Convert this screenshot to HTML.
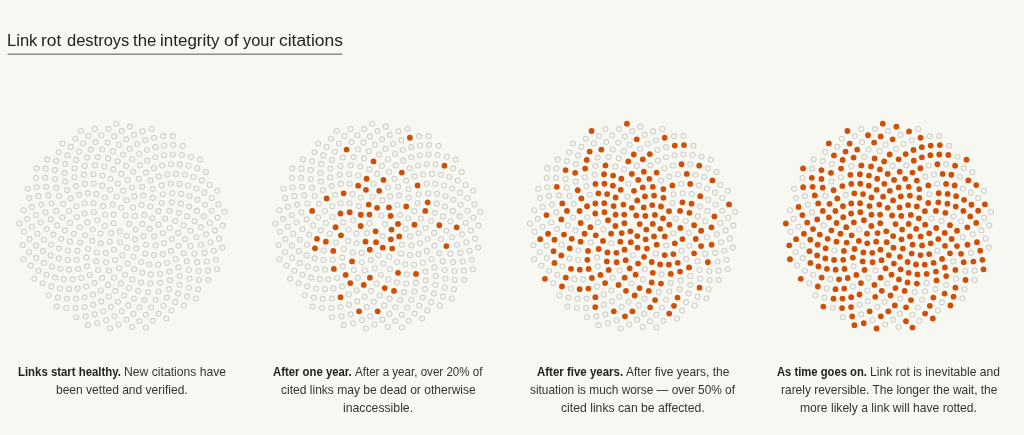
<!DOCTYPE html>
<html lang="en">
<head>
<meta charset="utf-8">
<title>Link rot destroys the integrity of your citations</title>
<style>
html,body{margin:0;padding:0;}
body{width:1024px;height:435px;overflow:hidden;background:#f8f8f3;position:relative;font-family:"Liberation Sans",sans-serif;}
section,figure,figcaption,h2{margin:0;padding:0;font-weight:400;}
section{position:absolute;left:0;top:0;width:1024px;height:435px;}
h2{position:absolute;left:0;top:0;width:350px;height:56px;}
h2 svg{position:absolute;left:0;top:50px;}
figure{position:absolute;left:0;top:0;width:1024px;height:435px;}
figure svg{position:absolute;}
.s{position:absolute;display:block;white-space:nowrap;transform-origin:0 0;line-height:18px;height:18px;}
.t{color:#222;}
.b{color:#222;font-weight:700;}
.r{color:#333;font-weight:400;}
.e{fill:none;stroke:#d0d1cd;stroke-width:1.12;}
.f{fill:#cf4f08;stroke:none;}
</style>
</head>
<body>
<section>
<h2><span class="s t" style="left:7.26px;top:32.01px;font-size:16px;transform:scaleX(1.0339)">Link</span> <span class="s t" style="left:41.46px;top:32.01px;font-size:16px;transform:scaleX(1.0834)">rot</span> <span class="s t" style="left:66.63px;top:32.01px;font-size:16px;transform:scaleX(1.0312)">destroys</span> <span class="s t" style="left:133.18px;top:32.01px;font-size:16px;transform:scaleX(1.0475)">the</span> <span class="s t" style="left:160.14px;top:32.01px;font-size:16px;transform:scaleX(1.0613)">integrity</span> <span class="s t" style="left:224.37px;top:32.01px;font-size:16px;transform:scaleX(1.104)">of</span> <span class="s t" style="left:243.10px;top:32.01px;font-size:16px;transform:scaleX(1.0226)">your</span> <span class="s t" style="left:278.63px;top:32.01px;font-size:16px;transform:scaleX(1.0878)">citations</span>
<svg width="350" height="6" viewBox="0 50 350 6" aria-hidden="true"><rect x="7.6" y="53.65" width="334.6" height="1" fill="#555"/></svg></h2>
<figure>
<svg width="220" height="220" viewBox="0 0 220 220" style="left:12px;top:116px" aria-hidden="true">
<circle class="e" cx="107.76" cy="115.29" r="2.5"/>
<circle class="e" cx="117.08" cy="108.10" r="2.5"/>
<circle class="e" cx="101.78" cy="107.22" r="2.5"/>
<circle class="e" cx="114.61" cy="120.10" r="2.5"/>
<circle class="e" cx="113.61" cy="99.50" r="2.5"/>
<circle class="e" cx="99.10" cy="117.10" r="2.5"/>
<circle class="e" cx="123.65" cy="113.57" r="2.5"/>
<circle class="e" cx="101.62" cy="98.59" r="2.5"/>
<circle class="e" cx="108.18" cy="126.19" r="2.5"/>
<circle class="e" cx="122.74" cy="99.97" r="2.5"/>
<circle class="e" cx="92.84" cy="109.99" r="2.5"/>
<circle class="e" cx="123.01" cy="123.37" r="2.5"/>
<circle class="e" cx="109.22" cy="91.85" r="2.5"/>
<circle class="e" cx="97.68" cy="125.69" r="2.5"/>
<circle class="e" cx="130.18" cy="107.89" r="2.5"/>
<circle class="e" cx="92.97" cy="98.77" r="2.5"/>
<circle class="e" cx="114.94" cy="131.64" r="2.5"/>
<circle class="e" cx="121.11" cy="91.39" r="2.5"/>
<circle class="e" cx="88.49" cy="117.63" r="2.5"/>
<circle class="e" cx="131.38" cy="120.38" r="2.5"/>
<circle class="e" cx="100.84" cy="88.60" r="2.5"/>
<circle class="e" cx="101.93" cy="133.72" r="2.5"/>
<circle class="e" cx="132.28" cy="98.93" r="2.5"/>
<circle class="e" cx="85.39" cy="104.21" r="2.5"/>
<circle class="e" cx="124.34" cy="132.57" r="2.5"/>
<circle class="e" cx="114.58" cy="84.40" r="2.5"/>
<circle class="e" cx="88.75" cy="127.33" r="2.5"/>
<circle class="e" cx="137.69" cy="112.85" r="2.5"/>
<circle class="e" cx="90.99" cy="90.07" r="2.5"/>
<circle class="e" cx="110.38" cy="139.25" r="2.5"/>
<circle class="e" cx="129.62" cy="89.06" r="2.5"/>
<circle class="e" cx="80.75" cy="113.47" r="2.5"/>
<circle class="e" cx="134.10" cy="128.71" r="2.5"/>
<circle class="e" cx="104.61" cy="80.71" r="2.5"/>
<circle class="e" cx="93.78" cy="136.85" r="2.5"/>
<circle class="e" cx="140.34" cy="102.28" r="2.5"/>
<circle class="e" cx="81.85" cy="96.24" r="2.5"/>
<circle class="e" cx="121.43" cy="140.80" r="2.5"/>
<circle class="e" cx="122.35" cy="80.41" r="2.5"/>
<circle class="e" cx="80.35" cy="124.88" r="2.5"/>
<circle class="e" cx="142.13" cy="120.40" r="2.5"/>
<circle class="e" cx="92.95" cy="81.51" r="2.5"/>
<circle class="e" cx="103.06" cy="144.15" r="2.5"/>
<circle class="e" cx="138.33" cy="90.50" r="2.5"/>
<circle class="e" cx="75.38" cy="106.42" r="2.5"/>
<circle class="e" cx="133.19" cy="137.55" r="2.5"/>
<circle class="e" cx="111.34" cy="74.87" r="2.5"/>
<circle class="e" cx="84.84" cy="136.50" r="2.5"/>
<circle class="e" cx="146.65" cy="108.67" r="2.5"/>
<circle class="e" cx="81.61" cy="87.22" r="2.5"/>
<circle class="e" cx="115.42" cy="147.57" r="2.5"/>
<circle class="e" cx="131.41" cy="79.57" r="2.5"/>
<circle class="e" cx="73.13" cy="119.29" r="2.5"/>
<circle class="e" cx="143.59" cy="129.46" r="2.5"/>
<circle class="e" cx="98.09" cy="73.85" r="2.5"/>
<circle class="e" cx="94.04" cy="146.25" r="2.5"/>
<circle class="e" cx="146.39" cy="95.14" r="2.5"/>
<circle class="e" cx="72.62" cy="97.49" r="2.5"/>
<circle class="e" cx="129.09" cy="146.00" r="2.5"/>
<circle class="e" cx="120.15" cy="71.46" r="2.5"/>
<circle class="e" cx="76.02" cy="132.98" r="2.5"/>
<circle class="e" cx="150.73" cy="117.29" r="2.5"/>
<circle class="e" cx="84.51" cy="78.08" r="2.5"/>
<circle class="e" cx="107.03" cy="152.31" r="2.5"/>
<circle class="e" cx="140.82" cy="81.82" r="2.5"/>
<circle class="e" cx="67.73" cy="111.19" r="2.5"/>
<circle class="e" cx="142.03" cy="139.11" r="2.5"/>
<circle class="e" cx="105.84" cy="67.81" r="2.5"/>
<circle class="e" cx="84.20" cy="145.41" r="2.5"/>
<circle class="e" cx="153.07" cy="102.49" r="2.5"/>
<circle class="e" cx="72.73" cy="87.51" r="2.5"/>
<circle class="e" cx="122.20" cy="153.29" r="2.5"/>
<circle class="e" cx="130.20" cy="70.80" r="2.5"/>
<circle class="e" cx="68.16" cy="126.60" r="2.5"/>
<circle class="e" cx="152.17" cy="127.37" r="2.5"/>
<circle class="e" cx="90.33" cy="69.67" r="2.5"/>
<circle class="e" cx="97.00" cy="154.54" r="2.5"/>
<circle class="e" cx="149.75" cy="87.02" r="2.5"/>
<circle class="e" cx="64.70" cy="101.27" r="2.5"/>
<circle class="e" cx="137.50" cy="148.51" r="2.5"/>
<circle class="e" cx="115.59" cy="63.97" r="2.5"/>
<circle class="e" cx="74.39" cy="141.58" r="2.5"/>
<circle class="e" cx="157.70" cy="112.01" r="2.5"/>
<circle class="e" cx="75.80" cy="77.33" r="2.5"/>
<circle class="e" cx="112.99" cy="158.71" r="2.5"/>
<circle class="e" cx="140.70" cy="73.08" r="2.5"/>
<circle class="e" cx="61.97" cy="117.76" r="2.5"/>
<circle class="e" cx="150.71" cy="138.11" r="2.5"/>
<circle class="e" cx="98.72" cy="62.73" r="2.5"/>
<circle class="e" cx="86.07" cy="153.94" r="2.5"/>
<circle class="e" cx="157.41" cy="94.90" r="2.5"/>
<circle class="e" cx="64.42" cy="90.23" r="2.5"/>
<circle class="e" cx="130.19" cy="156.85" r="2.5"/>
<circle class="e" cx="126.67" cy="62.80" r="2.5"/>
<circle class="e" cx="65.41" cy="134.90" r="2.5"/>
<circle class="e" cx="159.79" cy="123.05" r="2.5"/>
<circle class="e" cx="81.78" cy="67.75" r="2.5"/>
<circle class="e" cx="102.05" cy="161.70" r="2.5"/>
<circle class="e" cx="150.82" cy="78.31" r="2.5"/>
<circle class="e" cx="58.06" cy="107.01" r="2.5"/>
<circle class="e" cx="146.28" cy="148.71" r="2.5"/>
<circle class="e" cx="109.22" cy="57.92" r="2.5"/>
<circle class="e" cx="75.05" cy="150.35" r="2.5"/>
<circle class="e" cx="163.11" cy="105.06" r="2.5"/>
<circle class="e" cx="67.12" cy="78.85" r="2.5"/>
<circle class="e" cx="120.45" cy="163.41" r="2.5"/>
<circle class="e" cx="138.33" cy="64.57" r="2.5"/>
<circle class="e" cx="58.00" cy="125.66" r="2.5"/>
<circle class="e" cx="158.97" cy="134.92" r="2.5"/>
<circle class="e" cx="90.46" cy="59.55" r="2.5"/>
<circle class="e" cx="90.06" cy="161.87" r="2.5"/>
<circle class="e" cx="159.78" cy="86.34" r="2.5"/>
<circle class="e" cx="56.90" cy="94.98" r="2.5"/>
<circle class="e" cx="138.95" cy="158.39" r="2.5"/>
<circle class="e" cx="121.20" cy="55.76" r="2.5"/>
<circle class="e" cx="64.72" cy="143.80" r="2.5"/>
<circle class="e" cx="166.28" cy="116.92" r="2.5"/>
<circle class="e" cx="72.83" cy="67.93" r="2.5"/>
<circle class="e" cx="108.80" cy="167.60" r="2.5"/>
<circle class="e" cx="149.77" cy="69.40" r="2.5"/>
<circle class="e" cx="52.83" cy="114.32" r="2.5"/>
<circle class="e" cx="155.08" cy="146.81" r="2.5"/>
<circle class="e" cx="101.41" cy="53.40" r="2.5"/>
<circle class="e" cx="77.79" cy="158.96" r="2.5"/>
<circle class="e" cx="166.87" cy="96.83" r="2.5"/>
<circle class="e" cx="58.79" cy="82.41" r="2.5"/>
<circle class="e" cx="129.03" cy="166.39" r="2.5"/>
<circle class="e" cx="133.97" cy="56.59" r="2.5"/>
<circle class="e" cx="55.85" cy="134.51" r="2.5"/>
<circle class="e" cx="166.52" cy="129.80" r="2.5"/>
<circle class="e" cx="81.41" cy="58.25" r="2.5"/>
<circle class="e" cx="95.89" cy="168.92" r="2.5"/>
<circle class="e" cx="160.22" cy="77.19" r="2.5"/>
<circle class="e" cx="50.41" cy="101.47" r="2.5"/>
<circle class="e" cx="148.14" cy="157.95" r="2.5"/>
<circle class="e" cx="114.10" cy="49.88" r="2.5"/>
<circle class="e" cx="66.03" cy="152.94" r="2.5"/>
<circle class="e" cx="171.48" cy="109.26" r="2.5"/>
<circle class="e" cx="63.83" cy="70.10" r="2.5"/>
<circle class="e" cx="116.94" cy="172.06" r="2.5"/>
<circle class="e" cx="146.75" cy="60.60" r="2.5"/>
<circle class="e" cx="49.14" cy="122.87" r="2.5"/>
<circle class="e" cx="163.58" cy="142.97" r="2.5"/>
<circle class="e" cx="92.52" cy="50.52" r="2.5"/>
<circle class="e" cx="82.44" cy="167.09" r="2.5"/>
<circle class="e" cx="168.91" cy="87.67" r="2.5"/>
<circle class="e" cx="51.10" cy="87.82" r="2.5"/>
<circle class="e" cx="138.37" cy="167.56" r="2.5"/>
<circle class="e" cx="127.85" cy="49.42" r="2.5"/>
<circle class="e" cx="55.56" cy="143.96" r="2.5"/>
<circle class="e" cx="173.11" cy="123.01" r="2.5"/>
<circle class="e" cx="71.94" cy="58.83" r="2.5"/>
<circle class="e" cx="103.30" cy="174.87" r="2.5"/>
<circle class="e" cx="158.74" cy="67.78" r="2.5"/>
<circle class="e" cx="45.15" cy="109.43" r="2.5"/>
<circle class="e" cx="157.41" cy="155.60" r="2.5"/>
<circle class="e" cx="105.65" cy="45.38" r="2.5"/>
<circle class="e" cx="69.25" cy="161.98" r="2.5"/>
<circle class="e" cx="175.19" cy="100.40" r="2.5"/>
<circle class="e" cx="55.09" cy="74.16" r="2.5"/>
<circle class="e" cx="126.15" cy="174.95" r="2.5"/>
<circle class="e" cx="141.88" cy="52.25" r="2.5"/>
<circle class="e" cx="47.11" cy="132.34" r="2.5"/>
<circle class="e" cx="171.47" cy="137.32" r="2.5"/>
<circle class="e" cx="82.86" cy="49.38" r="2.5"/>
<circle class="e" cx="88.82" cy="174.45" r="2.5"/>
<circle class="e" cx="169.16" cy="77.92" r="2.5"/>
<circle class="e" cx="44.33" cy="94.88" r="2.5"/>
<circle class="e" cx="148.14" cy="166.90" r="2.5"/>
<circle class="e" cx="120.16" cy="43.31" r="2.5"/>
<circle class="e" cx="57.12" cy="153.67" r="2.5"/>
<circle class="e" cx="178.51" cy="114.76" r="2.5"/>
<circle class="e" cx="62.38" cy="61.30" r="2.5"/>
<circle class="e" cx="112.04" cy="179.50" r="2.5"/>
<circle class="e" cx="155.39" cy="58.45" r="2.5"/>
<circle class="e" cx="41.33" cy="118.60" r="2.5"/>
<circle class="e" cx="166.42" cy="151.39" r="2.5"/>
<circle class="e" cx="96.14" cy="42.41" r="2.5"/>
<circle class="e" cx="74.29" cy="170.60" r="2.5"/>
<circle class="e" cx="177.28" cy="90.61" r="2.5"/>
<circle class="e" cx="46.94" cy="80.00" r="2.5"/>
<circle class="e" cx="136.12" cy="176.13" r="2.5"/>
<circle class="e" cx="135.30" cy="44.64" r="2.5"/>
<circle class="e" cx="46.85" cy="142.42" r="2.5"/>
<circle class="e" cx="178.48" cy="130.04" r="2.5"/>
<circle class="e" cx="72.76" cy="50.04" r="2.5"/>
<circle class="e" cx="96.74" cy="180.78" r="2.5"/>
<circle class="e" cx="167.57" cy="67.88" r="2.5"/>
<circle class="e" cx="38.73" cy="103.38" r="2.5"/>
<circle class="e" cx="158.03" cy="164.39" r="2.5"/>
<circle class="e" cx="111.15" cy="38.49" r="2.5"/>
<circle class="e" cx="60.54" cy="163.32" r="2.5"/>
<circle class="e" cx="182.50" cy="105.31" r="2.5"/>
<circle class="e" cx="53.05" cy="65.60" r="2.5"/>
<circle class="e" cx="121.85" cy="182.62" r="2.5"/>
<circle class="e" cx="150.24" cy="49.52" r="2.5"/>
<circle class="e" cx="39.12" cy="128.69" r="2.5"/>
<circle class="e" cx="174.88" cy="145.42" r="2.5"/>
<circle class="e" cx="85.84" cy="41.11" r="2.5"/>
<circle class="e" cx="81.03" cy="178.51" r="2.5"/>
<circle class="e" cx="177.63" cy="80.20" r="2.5"/>
<circle class="e" cx="39.65" cy="87.46" r="2.5"/>
<circle class="e" cx="146.56" cy="175.53" r="2.5"/>
<circle class="e" cx="127.17" cy="38.04" r="2.5"/>
<circle class="e" cx="48.40" cy="152.80" r="2.5"/>
<circle class="e" cx="184.33" cy="121.31" r="2.5"/>
<circle class="e" cx="62.54" cy="52.54" r="2.5"/>
<circle class="e" cx="106.00" cy="185.84" r="2.5"/>
<circle class="e" cx="164.14" cy="57.88" r="2.5"/>
<circle class="e" cx="34.52" cy="113.10" r="2.5"/>
<circle class="e" cx="167.71" cy="160.05" r="2.5"/>
<circle class="e" cx="101.06" cy="35.17" r="2.5"/>
<circle class="e" cx="65.76" cy="172.60" r="2.5"/>
<circle class="e" cx="184.90" cy="94.92" r="2.5"/>
<circle class="e" cx="44.25" cy="71.67" r="2.5"/>
<circle class="e" cx="132.46" cy="184.08" r="2.5"/>
<circle class="e" cx="143.38" cy="41.28" r="2.5"/>
<circle class="e" cx="38.62" cy="139.43" r="2.5"/>
<circle class="e" cx="182.49" cy="137.81" r="2.5"/>
<circle class="e" cx="75.07" cy="41.60" r="2.5"/>
<circle class="e" cx="89.33" cy="185.43" r="2.5"/>
<circle class="e" cx="176.17" cy="69.48" r="2.5"/>
<circle class="e" cx="33.49" cy="96.38" r="2.5"/>
<circle class="e" cx="157.14" cy="173.10" r="2.5"/>
<circle class="e" cx="117.70" cy="32.69" r="2.5"/>
<circle class="e" cx="51.79" cy="163.15" r="2.5"/>
<circle class="e" cx="188.82" cy="111.36" r="2.5"/>
<circle class="e" cx="52.49" cy="56.87" r="2.5"/>
<circle class="e" cx="116.35" cy="189.42" r="2.5"/>
<circle class="e" cx="158.90" cy="48.24" r="2.5"/>
<circle class="e" cx="31.88" cy="123.77" r="2.5"/>
<circle class="e" cx="176.87" cy="153.94" r="2.5"/>
<circle class="e" cx="90.15" cy="33.49" r="2.5"/>
<circle class="e" cx="72.70" cy="181.20" r="2.5"/>
<circle class="e" cx="185.58" cy="83.87" r="2.5"/>
<circle class="e" cx="36.28" cy="79.38" r="2.5"/>
<circle class="e" cx="143.57" cy="183.76" r="2.5"/>
<circle class="e" cx="134.95" cy="34.01" r="2.5"/>
<circle class="e" cx="39.94" cy="150.50" r="2.5"/>
<circle class="e" cx="189.00" cy="128.73" r="2.5"/>
<circle class="e" cx="64.13" cy="43.92" r="2.5"/>
<circle class="e" cx="98.99" cy="191.11" r="2.5"/>
<circle class="e" cx="172.86" cy="58.75" r="2.5"/>
<circle class="e" cx="28.69" cy="106.55" r="2.5"/>
<circle class="e" cx="167.56" cy="168.82" r="2.5"/>
<circle class="e" cx="107.10" cy="28.81" r="2.5"/>
<circle class="e" cx="57.01" cy="173.18" r="2.5"/>
<circle class="e" cx="191.74" cy="100.42" r="2.5"/>
<circle class="e" cx="42.94" cy="62.98" r="2.5"/>
<circle class="e" cx="127.55" cy="191.36" r="2.5"/>
<circle class="e" cx="151.92" cy="39.24" r="2.5"/>
<circle class="e" cx="30.96" cy="135.13" r="2.5"/>
<circle class="e" cx="185.23" cy="146.16" r="2.5"/>
<circle class="e" cx="78.71" cy="33.60" r="2.5"/>
<circle class="e" cx="81.22" cy="188.86" r="2.5"/>
<circle class="e" cx="184.45" cy="72.45" r="2.5"/>
<circle class="e" cx="29.40" cy="88.59" r="2.5"/>
<circle class="e" cx="154.88" cy="181.60" r="2.5"/>
<circle class="e" cx="125.13" cy="27.96" r="2.5"/>
<circle class="e" cx="43.12" cy="161.60" r="2.5"/>
<circle class="e" cx="194.16" cy="118.37" r="2.5"/>
<circle class="e" cx="53.31" cy="48.09" r="2.5"/>
<circle class="e" cx="109.80" cy="195.33" r="2.5"/>
<circle class="e" cx="167.72" cy="48.33" r="2.5"/>
<circle class="e" cx="25.44" cy="117.73" r="2.5"/>
<circle class="e" cx="177.52" cy="162.74" r="2.5"/>
<circle class="e" cx="95.63" cy="26.57" r="2.5"/>
<circle class="e" cx="63.97" cy="182.59" r="2.5"/>
<circle class="e" cx="192.95" cy="88.76" r="2.5"/>
<circle class="e" cx="34.17" cy="70.79" r="2.5"/>
<circle class="e" cx="139.31" cy="191.51" r="2.5"/>
<circle class="e" cx="143.34" cy="31.18" r="2.5"/>
<circle class="e" cx="31.86" cy="146.90" r="2.5"/>
<circle class="e" cx="192.52" cy="136.86" r="2.5"/>
<circle class="e" cx="67.04" cy="35.55" r="2.5"/>
<circle class="e" cx="91.18" cy="195.30" r="2.5"/>
<circle class="e" cx="181.45" cy="60.96" r="2.5"/>
<circle class="e" cx="23.86" cy="99.11" r="2.5"/>
<circle class="e" cx="166.08" cy="177.57" r="2.5"/>
<circle class="e" cx="114.12" cy="23.36" r="2.5"/>
<circle class="e" cx="48.15" cy="172.44" r="2.5"/>
<circle class="e" cx="197.76" cy="106.96" r="2.5"/>
<circle class="e" cx="42.94" cy="54.09" r="2.5"/>
<circle class="e" cx="121.53" cy="197.91" r="2.5"/>
<circle class="e" cx="160.79" cy="38.50" r="2.5"/>
<circle class="e" cx="23.92" cy="129.68" r="2.5"/>
<circle class="e" cx="186.72" cy="154.95" r="2.5"/>
<circle class="e" cx="83.56" cy="26.12" r="2.5"/>
<circle class="e" cx="72.59" cy="191.08" r="2.5"/>
<circle class="e" cx="192.32" cy="76.66" r="2.5"/>
<circle class="e" cx="26.46" cy="80.16" r="2.5"/>
<circle class="e" cx="151.34" cy="189.80" r="2.5"/>
<circle class="e" cx="133.29" cy="24.32" r="2.5"/>
<circle class="e" cx="34.64" cy="158.76" r="2.5"/>
<circle class="e" cx="198.48" cy="126.20" r="2.5"/>
<circle class="e" cx="55.43" cy="39.40" r="2.5"/>
<circle class="e" cx="102.35" cy="200.30" r="2.5"/>
<circle class="e" cx="176.57" cy="49.71" r="2.5"/>
<circle class="e" cx="19.86" cy="110.72" r="2.5"/>
<circle class="e" cx="176.89" cy="171.69" r="2.5"/>
<circle class="e" cx="102.16" cy="20.41" r="2.5"/>
<circle class="e" cx="54.99" cy="182.71" r="2.5"/>
<circle class="e" cx="199.64" cy="94.75" r="2.5"/>
<circle class="e" cx="33.29" cy="61.84" r="2.5"/>
<circle class="e" cx="133.89" cy="198.70" r="2.5"/>
<circle class="e" cx="152.19" cy="29.56" r="2.5"/>
<circle class="e" cx="24.23" cy="142.10" r="2.5"/>
<circle class="e" cx="194.88" cy="145.55" r="2.5"/>
<circle class="e" cx="71.18" cy="27.54" r="2.5"/>
<circle class="e" cx="82.70" cy="198.39" r="2.5"/>
<circle class="e" cx="189.79" cy="64.42" r="2.5"/>
<circle class="e" cx="20.05" cy="90.92" r="2.5"/>
<circle class="e" cx="163.34" cy="186.18" r="2.5"/>
<circle class="e" cx="121.97" cy="18.88" r="2.5"/>
<circle class="e" cx="39.33" cy="170.43" r="2.5"/>
<circle class="e" cx="202.90" cy="114.41" r="2.5"/>
<circle class="e" cx="44.20" cy="45.12" r="2.5"/>
<circle class="e" cx="114.52" cy="203.66" r="2.5"/>
<circle class="e" cx="169.85" cy="39.00" r="2.5"/>
<circle class="e" cx="17.59" cy="123.18" r="2.5"/>
<circle class="e" cx="186.99" cy="164.02" r="2.5"/>
<circle class="e" cx="89.51" cy="19.25" r="2.5"/>
<circle class="e" cx="63.55" cy="192.11" r="2.5"/>
<circle class="e" cx="199.67" cy="82.01" r="2.5"/>
<circle class="e" cx="24.66" cy="71.23" r="2.5"/>
<circle class="e" cx="146.62" cy="197.59" r="2.5"/>
<circle class="e" cx="142.04" cy="21.77" r="2.5"/>
<circle class="e" cx="26.47" cy="154.71" r="2.5"/>
<circle class="e" cx="201.75" cy="134.72" r="2.5"/>
<circle class="e" cx="58.79" cy="30.90" r="2.5"/>
<circle class="e" cx="94.13" cy="204.29" r="2.5"/>
<circle class="e" cx="185.33" cy="52.33" r="2.5"/>
<circle class="e" cx="15.18" cy="102.86" r="2.5"/>
<circle class="e" cx="175.01" cy="180.65" r="2.5"/>
<circle class="e" cx="109.61" cy="15.08" r="2.5"/>
<circle class="e" cx="45.90" cy="181.59" r="2.5"/>
<circle class="e" cx="205.59" cy="101.73" r="2.5"/>
<circle class="e" cx="33.64" cy="52.67" r="2.5"/>
<circle class="e" cx="127.43" cy="205.23" r="2.5"/>
<circle class="e" cx="161.37" cy="29.12" r="2.5"/>
<circle class="e" cx="17.17" cy="136.21" r="2.5"/>
<circle class="e" cx="196.10" cy="154.67" r="2.5"/>
<circle class="e" cx="76.46" cy="20.00" r="2.5"/>
<circle class="e" cx="73.70" cy="200.38" r="2.5"/>
<circle class="e" cx="197.76" cy="69.05" r="2.5"/>
<circle class="e" cx="17.31" cy="82.11" r="2.5"/>
<circle class="e" cx="159.40" cy="194.53" r="2.5"/>
<circle class="e" cx="130.53" cy="15.40" r="2.5"/>
<circle class="e" cx="30.67" cy="167.20" r="2.5"/>
<circle class="e" cx="207.10" cy="122.66" r="2.5"/>
<circle class="e" cx="46.68" cy="36.20" r="2.5"/>
<circle class="e" cx="106.66" cy="208.56" r="2.5"/>
<circle class="e" cx="178.96" cy="40.72" r="2.5"/>
<circle class="e" cx="12.04" cy="115.74" r="2.5"/>
<circle class="e" cx="186.04" cy="173.26" r="2.5"/>
<circle class="e" cx="96.46" cy="13.08" r="2.5"/>
<circle class="e" cx="54.26" cy="191.95" r="2.5"/>
<circle class="e" cx="206.42" cy="88.42" r="2.5"/>
<circle class="e" cx="24.03" cy="61.95" r="2.5"/>
<circle class="e" cx="140.80" cy="204.87" r="2.5"/>
<circle class="e" cx="151.25" cy="20.35" r="2.5"/>
<circle class="e" cx="18.72" cy="149.52" r="2.5"/>
<circle class="e" cx="203.95" cy="143.79" r="2.5"/>
<circle class="e" cx="63.30" cy="22.73" r="2.5"/>
<circle class="e" cx="85.27" cy="207.26" r="2.5"/>
<circle class="e" cx="193.87" cy="56.15" r="2.5"/>
<circle class="e" cx="11.47" cy="94.26" r="2.5"/>
<circle class="e" cx="171.93" cy="189.50" r="2.5"/>
<circle class="e" cx="117.87" cy="10.64" r="2.5"/>
<circle class="e" cx="36.81" cy="179.27" r="2.5"/>
<circle class="e" cx="210.72" cy="109.59" r="2.5"/>
<circle class="e" cx="35.18" cy="43.41" r="2.5"/>
<circle class="e" cx="120.02" cy="211.01" r="2.5"/>
<circle class="e" cx="170.74" cy="29.87" r="2.5"/>
<circle class="e" cx="10.77" cy="129.31" r="2.5"/>
<circle class="e" cx="196.15" cy="164.09" r="2.5"/>
<circle class="e" cx="82.80" cy="13.02" r="2.5"/>
<circle class="e" cx="64.31" cy="201.23" r="2.5"/>
<circle class="e" cx="205.26" cy="74.77" r="2.5"/>
<circle class="e" cx="15.66" cy="72.80" r="2.5"/>
<circle class="e" cx="154.32" cy="202.51" r="2.5"/>
<circle class="e" cx="139.67" cy="12.95" r="2.5"/>
<circle class="e" cx="22.28" cy="162.82" r="2.5"/>
<circle class="e" cx="210.31" cy="131.57" r="2.5"/>
<circle class="e" cx="50.34" cy="27.46" r="2.5"/>
<circle class="e" cx="98.04" cy="212.52" r="2.5"/>
<circle class="e" cx="188.00" cy="43.63" r="2.5"/>
<circle class="e" cx="7.34" cy="107.48" r="2.5"/>
<circle class="e" cx="183.91" cy="182.52" r="2.5"/>
<circle class="e" cx="104.30" cy="7.70" r="2.5"/>
<circle class="e" cx="44.83" cy="190.62" r="2.5"/>
<circle class="e" cx="212.46" cy="95.79" r="2.5"/>
<circle class="e" cx="24.56" cy="52.43" r="2.5"/>
<circle class="e" cx="133.96" cy="211.53" r="2.5"/>
<circle class="e" cx="160.80" cy="20.07" r="2.5"/>
<circle class="e" cx="11.49" cy="143.27" r="2.5"/>
<circle class="e" cx="205.05" cy="153.29" r="2.5"/>
<circle class="e" cx="68.92" cy="14.98" r="2.5"/>
<circle class="e" cx="75.88" cy="209.16" r="2.5"/>
</svg>
<figcaption><b class="s b" style="left:18.13px;top:363.01px;font-size:12.8px;transform:scaleX(0.8895)">Links start healthy.</b> <span class="s r" style="left:124.05px;top:363.01px;font-size:12.8px;transform:scaleX(0.9509)">New citations have</span> <span class="s r" style="left:56.20px;top:381.01px;font-size:12.8px;transform:scaleX(0.9396)">been vetted and verified.</span></figcaption>
</figure>
<figure>
<svg width="220" height="220" viewBox="0 0 220 220" style="left:268px;top:116px" aria-hidden="true">
<circle class="f" cx="107.61" cy="115.29" r="2.9"/>
<circle class="e" cx="116.93" cy="108.10" r="2.5"/>
<circle class="e" cx="101.63" cy="107.22" r="2.5"/>
<circle class="e" cx="114.46" cy="120.10" r="2.5"/>
<circle class="e" cx="113.46" cy="99.50" r="2.5"/>
<circle class="e" cx="98.95" cy="117.10" r="2.5"/>
<circle class="f" cx="123.50" cy="113.57" r="2.9"/>
<circle class="f" cx="101.47" cy="98.59" r="2.9"/>
<circle class="f" cx="108.03" cy="126.19" r="2.9"/>
<circle class="f" cx="122.59" cy="99.97" r="2.9"/>
<circle class="f" cx="92.69" cy="109.99" r="2.9"/>
<circle class="f" cx="122.86" cy="123.37" r="2.9"/>
<circle class="f" cx="109.07" cy="91.85" r="2.9"/>
<circle class="f" cx="97.53" cy="125.69" r="2.9"/>
<circle class="f" cx="130.03" cy="107.89" r="2.9"/>
<circle class="f" cx="92.82" cy="98.77" r="2.9"/>
<circle class="f" cx="114.79" cy="131.64" r="2.9"/>
<circle class="f" cx="120.96" cy="91.39" r="2.9"/>
<circle class="e" cx="88.34" cy="117.63" r="2.5"/>
<circle class="f" cx="131.23" cy="120.38" r="2.9"/>
<circle class="f" cx="100.69" cy="88.60" r="2.9"/>
<circle class="f" cx="101.78" cy="133.72" r="2.9"/>
<circle class="e" cx="132.13" cy="98.93" r="2.5"/>
<circle class="e" cx="85.24" cy="104.21" r="2.5"/>
<circle class="f" cx="124.19" cy="132.57" r="2.9"/>
<circle class="e" cx="114.43" cy="84.40" r="2.5"/>
<circle class="e" cx="88.60" cy="127.33" r="2.5"/>
<circle class="e" cx="137.54" cy="112.85" r="2.5"/>
<circle class="e" cx="90.84" cy="90.07" r="2.5"/>
<circle class="e" cx="110.23" cy="139.25" r="2.5"/>
<circle class="e" cx="129.47" cy="89.06" r="2.5"/>
<circle class="e" cx="80.60" cy="113.47" r="2.5"/>
<circle class="e" cx="133.95" cy="128.71" r="2.5"/>
<circle class="e" cx="104.46" cy="80.71" r="2.5"/>
<circle class="e" cx="93.63" cy="136.85" r="2.5"/>
<circle class="e" cx="140.19" cy="102.28" r="2.5"/>
<circle class="f" cx="81.70" cy="96.24" r="2.9"/>
<circle class="e" cx="121.28" cy="140.80" r="2.5"/>
<circle class="e" cx="122.20" cy="80.41" r="2.5"/>
<circle class="e" cx="80.20" cy="124.88" r="2.5"/>
<circle class="e" cx="141.98" cy="120.40" r="2.5"/>
<circle class="e" cx="92.80" cy="81.51" r="2.5"/>
<circle class="e" cx="102.91" cy="144.15" r="2.5"/>
<circle class="f" cx="138.18" cy="90.50" r="2.9"/>
<circle class="e" cx="75.23" cy="106.42" r="2.5"/>
<circle class="e" cx="133.04" cy="137.55" r="2.5"/>
<circle class="f" cx="111.19" cy="74.87" r="2.9"/>
<circle class="e" cx="84.69" cy="136.50" r="2.5"/>
<circle class="f" cx="146.50" cy="108.67" r="2.9"/>
<circle class="e" cx="81.46" cy="87.22" r="2.5"/>
<circle class="e" cx="115.27" cy="147.57" r="2.5"/>
<circle class="e" cx="131.26" cy="79.57" r="2.5"/>
<circle class="f" cx="72.98" cy="119.29" r="2.9"/>
<circle class="e" cx="143.44" cy="129.46" r="2.5"/>
<circle class="f" cx="97.94" cy="73.85" r="2.9"/>
<circle class="e" cx="93.89" cy="146.25" r="2.5"/>
<circle class="e" cx="146.24" cy="95.14" r="2.5"/>
<circle class="f" cx="72.47" cy="97.49" r="2.9"/>
<circle class="e" cx="128.94" cy="146.00" r="2.5"/>
<circle class="e" cx="120.00" cy="71.46" r="2.5"/>
<circle class="e" cx="75.87" cy="132.98" r="2.5"/>
<circle class="e" cx="150.58" cy="117.29" r="2.5"/>
<circle class="e" cx="84.36" cy="78.08" r="2.5"/>
<circle class="e" cx="106.88" cy="152.31" r="2.5"/>
<circle class="e" cx="140.67" cy="81.82" r="2.5"/>
<circle class="f" cx="67.58" cy="111.19" r="2.9"/>
<circle class="e" cx="141.88" cy="139.11" r="2.5"/>
<circle class="e" cx="105.69" cy="67.81" r="2.5"/>
<circle class="f" cx="84.05" cy="145.41" r="2.9"/>
<circle class="e" cx="152.92" cy="102.49" r="2.5"/>
<circle class="e" cx="72.58" cy="87.51" r="2.5"/>
<circle class="e" cx="122.05" cy="153.29" r="2.5"/>
<circle class="e" cx="130.05" cy="70.80" r="2.5"/>
<circle class="e" cx="68.01" cy="126.60" r="2.5"/>
<circle class="e" cx="152.02" cy="127.37" r="2.5"/>
<circle class="f" cx="90.18" cy="69.67" r="2.9"/>
<circle class="e" cx="96.85" cy="154.54" r="2.5"/>
<circle class="e" cx="149.60" cy="87.02" r="2.5"/>
<circle class="e" cx="64.55" cy="101.27" r="2.5"/>
<circle class="e" cx="137.35" cy="148.51" r="2.5"/>
<circle class="f" cx="115.44" cy="63.97" r="2.9"/>
<circle class="e" cx="74.24" cy="141.58" r="2.5"/>
<circle class="e" cx="157.55" cy="112.01" r="2.5"/>
<circle class="f" cx="75.65" cy="77.33" r="2.9"/>
<circle class="e" cx="112.84" cy="158.71" r="2.5"/>
<circle class="e" cx="140.55" cy="73.08" r="2.5"/>
<circle class="e" cx="61.82" cy="117.76" r="2.5"/>
<circle class="e" cx="150.56" cy="138.11" r="2.5"/>
<circle class="f" cx="98.57" cy="62.73" r="2.9"/>
<circle class="e" cx="85.92" cy="153.94" r="2.5"/>
<circle class="f" cx="157.26" cy="94.90" r="2.9"/>
<circle class="e" cx="64.27" cy="90.23" r="2.5"/>
<circle class="f" cx="130.04" cy="156.85" r="2.9"/>
<circle class="e" cx="126.52" cy="62.80" r="2.5"/>
<circle class="f" cx="65.26" cy="134.90" r="2.9"/>
<circle class="e" cx="159.64" cy="123.05" r="2.5"/>
<circle class="e" cx="81.63" cy="67.75" r="2.5"/>
<circle class="f" cx="101.90" cy="161.70" r="2.9"/>
<circle class="e" cx="150.67" cy="78.31" r="2.5"/>
<circle class="e" cx="57.91" cy="107.01" r="2.5"/>
<circle class="e" cx="146.13" cy="148.71" r="2.5"/>
<circle class="e" cx="109.07" cy="57.92" r="2.5"/>
<circle class="e" cx="74.90" cy="150.35" r="2.5"/>
<circle class="e" cx="162.96" cy="105.06" r="2.5"/>
<circle class="e" cx="66.97" cy="78.85" r="2.5"/>
<circle class="e" cx="120.30" cy="163.41" r="2.5"/>
<circle class="e" cx="138.18" cy="64.57" r="2.5"/>
<circle class="f" cx="57.85" cy="125.66" r="2.9"/>
<circle class="e" cx="158.82" cy="134.92" r="2.5"/>
<circle class="e" cx="90.31" cy="59.55" r="2.5"/>
<circle class="e" cx="89.91" cy="161.87" r="2.5"/>
<circle class="f" cx="159.63" cy="86.34" r="2.9"/>
<circle class="e" cx="56.75" cy="94.98" r="2.5"/>
<circle class="e" cx="138.80" cy="158.39" r="2.5"/>
<circle class="e" cx="121.05" cy="55.76" r="2.5"/>
<circle class="e" cx="64.57" cy="143.80" r="2.5"/>
<circle class="e" cx="166.13" cy="116.92" r="2.5"/>
<circle class="e" cx="72.68" cy="67.93" r="2.5"/>
<circle class="e" cx="108.65" cy="167.60" r="2.5"/>
<circle class="f" cx="149.62" cy="69.40" r="2.9"/>
<circle class="e" cx="52.68" cy="114.32" r="2.5"/>
<circle class="e" cx="154.93" cy="146.81" r="2.5"/>
<circle class="e" cx="101.26" cy="53.40" r="2.5"/>
<circle class="f" cx="77.64" cy="158.96" r="2.9"/>
<circle class="e" cx="166.72" cy="96.83" r="2.5"/>
<circle class="f" cx="58.64" cy="82.41" r="2.9"/>
<circle class="e" cx="128.88" cy="166.39" r="2.5"/>
<circle class="f" cx="133.82" cy="56.59" r="2.9"/>
<circle class="e" cx="55.70" cy="134.51" r="2.5"/>
<circle class="e" cx="166.37" cy="129.80" r="2.5"/>
<circle class="e" cx="81.26" cy="58.25" r="2.5"/>
<circle class="f" cx="95.74" cy="168.92" r="2.9"/>
<circle class="e" cx="160.07" cy="77.19" r="2.5"/>
<circle class="e" cx="50.26" cy="101.47" r="2.5"/>
<circle class="f" cx="147.99" cy="157.95" r="2.9"/>
<circle class="e" cx="113.95" cy="49.88" r="2.5"/>
<circle class="f" cx="65.88" cy="152.94" r="2.9"/>
<circle class="f" cx="171.33" cy="109.26" r="2.9"/>
<circle class="e" cx="63.68" cy="70.10" r="2.5"/>
<circle class="f" cx="116.79" cy="172.06" r="2.9"/>
<circle class="e" cx="146.60" cy="60.60" r="2.5"/>
<circle class="f" cx="48.99" cy="122.87" r="2.9"/>
<circle class="e" cx="163.43" cy="142.97" r="2.5"/>
<circle class="e" cx="92.37" cy="50.52" r="2.5"/>
<circle class="f" cx="82.29" cy="167.09" r="2.9"/>
<circle class="e" cx="168.76" cy="87.67" r="2.5"/>
<circle class="e" cx="50.95" cy="87.82" r="2.5"/>
<circle class="e" cx="138.22" cy="167.56" r="2.5"/>
<circle class="e" cx="127.70" cy="49.42" r="2.5"/>
<circle class="e" cx="55.41" cy="143.96" r="2.5"/>
<circle class="e" cx="172.96" cy="123.01" r="2.5"/>
<circle class="e" cx="71.79" cy="58.83" r="2.5"/>
<circle class="e" cx="103.15" cy="174.87" r="2.5"/>
<circle class="e" cx="158.59" cy="67.78" r="2.5"/>
<circle class="e" cx="45.00" cy="109.43" r="2.5"/>
<circle class="e" cx="157.26" cy="155.60" r="2.5"/>
<circle class="f" cx="105.50" cy="45.38" r="2.9"/>
<circle class="e" cx="69.10" cy="161.98" r="2.5"/>
<circle class="e" cx="175.04" cy="100.40" r="2.5"/>
<circle class="e" cx="54.94" cy="74.16" r="2.5"/>
<circle class="f" cx="126.00" cy="174.95" r="2.9"/>
<circle class="e" cx="141.73" cy="52.25" r="2.5"/>
<circle class="f" cx="46.96" cy="132.34" r="2.9"/>
<circle class="e" cx="171.32" cy="137.32" r="2.5"/>
<circle class="e" cx="82.71" cy="49.38" r="2.5"/>
<circle class="e" cx="88.67" cy="174.45" r="2.5"/>
<circle class="e" cx="169.01" cy="77.92" r="2.5"/>
<circle class="f" cx="44.18" cy="94.88" r="2.9"/>
<circle class="e" cx="147.99" cy="166.90" r="2.5"/>
<circle class="e" cx="120.01" cy="43.31" r="2.5"/>
<circle class="e" cx="56.97" cy="153.67" r="2.5"/>
<circle class="e" cx="178.36" cy="114.76" r="2.5"/>
<circle class="e" cx="62.23" cy="61.30" r="2.5"/>
<circle class="e" cx="111.89" cy="179.50" r="2.5"/>
<circle class="e" cx="155.24" cy="58.45" r="2.5"/>
<circle class="e" cx="41.18" cy="118.60" r="2.5"/>
<circle class="e" cx="166.27" cy="151.39" r="2.5"/>
<circle class="e" cx="95.99" cy="42.41" r="2.5"/>
<circle class="e" cx="74.14" cy="170.60" r="2.5"/>
<circle class="e" cx="177.13" cy="90.61" r="2.5"/>
<circle class="e" cx="46.79" cy="80.00" r="2.5"/>
<circle class="e" cx="135.97" cy="176.13" r="2.5"/>
<circle class="e" cx="135.15" cy="44.64" r="2.5"/>
<circle class="e" cx="46.70" cy="142.42" r="2.5"/>
<circle class="f" cx="178.33" cy="130.04" r="2.9"/>
<circle class="e" cx="72.61" cy="50.04" r="2.5"/>
<circle class="e" cx="96.59" cy="180.78" r="2.5"/>
<circle class="e" cx="167.42" cy="67.88" r="2.5"/>
<circle class="e" cx="38.58" cy="103.38" r="2.5"/>
<circle class="e" cx="157.88" cy="164.39" r="2.5"/>
<circle class="e" cx="111.00" cy="38.49" r="2.5"/>
<circle class="e" cx="60.39" cy="163.32" r="2.5"/>
<circle class="e" cx="182.35" cy="105.31" r="2.5"/>
<circle class="e" cx="52.90" cy="65.60" r="2.5"/>
<circle class="e" cx="121.70" cy="182.62" r="2.5"/>
<circle class="e" cx="150.09" cy="49.52" r="2.5"/>
<circle class="e" cx="38.97" cy="128.69" r="2.5"/>
<circle class="e" cx="174.73" cy="145.42" r="2.5"/>
<circle class="e" cx="85.69" cy="41.11" r="2.5"/>
<circle class="e" cx="80.88" cy="178.51" r="2.5"/>
<circle class="e" cx="177.48" cy="80.20" r="2.5"/>
<circle class="e" cx="39.50" cy="87.46" r="2.5"/>
<circle class="e" cx="146.41" cy="175.53" r="2.5"/>
<circle class="e" cx="127.02" cy="38.04" r="2.5"/>
<circle class="e" cx="48.25" cy="152.80" r="2.5"/>
<circle class="e" cx="184.18" cy="121.31" r="2.5"/>
<circle class="e" cx="62.39" cy="52.54" r="2.5"/>
<circle class="e" cx="105.85" cy="185.84" r="2.5"/>
<circle class="e" cx="163.99" cy="57.88" r="2.5"/>
<circle class="e" cx="34.37" cy="113.10" r="2.5"/>
<circle class="e" cx="167.56" cy="160.05" r="2.5"/>
<circle class="e" cx="100.91" cy="35.17" r="2.5"/>
<circle class="e" cx="65.61" cy="172.60" r="2.5"/>
<circle class="e" cx="184.75" cy="94.92" r="2.5"/>
<circle class="e" cx="44.10" cy="71.67" r="2.5"/>
<circle class="e" cx="132.31" cy="184.08" r="2.5"/>
<circle class="e" cx="143.23" cy="41.28" r="2.5"/>
<circle class="e" cx="38.47" cy="139.43" r="2.5"/>
<circle class="e" cx="182.34" cy="137.81" r="2.5"/>
<circle class="e" cx="74.92" cy="41.60" r="2.5"/>
<circle class="e" cx="89.18" cy="185.43" r="2.5"/>
<circle class="e" cx="176.02" cy="69.48" r="2.5"/>
<circle class="e" cx="33.34" cy="96.38" r="2.5"/>
<circle class="e" cx="156.99" cy="173.10" r="2.5"/>
<circle class="e" cx="117.55" cy="32.69" r="2.5"/>
<circle class="e" cx="51.64" cy="163.15" r="2.5"/>
<circle class="f" cx="188.67" cy="111.36" r="2.9"/>
<circle class="e" cx="52.34" cy="56.87" r="2.5"/>
<circle class="e" cx="116.20" cy="189.42" r="2.5"/>
<circle class="e" cx="158.75" cy="48.24" r="2.5"/>
<circle class="e" cx="31.73" cy="123.77" r="2.5"/>
<circle class="e" cx="176.72" cy="153.94" r="2.5"/>
<circle class="e" cx="90.00" cy="33.49" r="2.5"/>
<circle class="f" cx="72.55" cy="181.20" r="2.9"/>
<circle class="e" cx="185.43" cy="83.87" r="2.5"/>
<circle class="e" cx="36.13" cy="79.38" r="2.5"/>
<circle class="e" cx="143.42" cy="183.76" r="2.5"/>
<circle class="e" cx="134.80" cy="34.01" r="2.5"/>
<circle class="e" cx="39.79" cy="150.50" r="2.5"/>
<circle class="e" cx="188.85" cy="128.73" r="2.5"/>
<circle class="e" cx="63.98" cy="43.92" r="2.5"/>
<circle class="e" cx="98.84" cy="191.11" r="2.5"/>
<circle class="e" cx="172.71" cy="58.75" r="2.5"/>
<circle class="e" cx="28.54" cy="106.55" r="2.5"/>
<circle class="e" cx="167.41" cy="168.82" r="2.5"/>
<circle class="e" cx="106.95" cy="28.81" r="2.5"/>
<circle class="e" cx="56.86" cy="173.18" r="2.5"/>
<circle class="e" cx="191.59" cy="100.42" r="2.5"/>
<circle class="e" cx="42.79" cy="62.98" r="2.5"/>
<circle class="e" cx="127.40" cy="191.36" r="2.5"/>
<circle class="e" cx="151.77" cy="39.24" r="2.5"/>
<circle class="e" cx="30.81" cy="135.13" r="2.5"/>
<circle class="e" cx="185.08" cy="146.16" r="2.5"/>
<circle class="f" cx="78.56" cy="33.60" r="2.9"/>
<circle class="e" cx="81.07" cy="188.86" r="2.5"/>
<circle class="e" cx="184.30" cy="72.45" r="2.5"/>
<circle class="e" cx="29.25" cy="88.59" r="2.5"/>
<circle class="e" cx="154.73" cy="181.60" r="2.5"/>
<circle class="e" cx="124.98" cy="27.96" r="2.5"/>
<circle class="e" cx="42.97" cy="161.60" r="2.5"/>
<circle class="e" cx="194.01" cy="118.37" r="2.5"/>
<circle class="e" cx="53.16" cy="48.09" r="2.5"/>
<circle class="f" cx="109.65" cy="195.33" r="2.9"/>
<circle class="e" cx="167.57" cy="48.33" r="2.5"/>
<circle class="e" cx="25.29" cy="117.73" r="2.5"/>
<circle class="e" cx="177.37" cy="162.74" r="2.5"/>
<circle class="e" cx="95.48" cy="26.57" r="2.5"/>
<circle class="e" cx="63.82" cy="182.59" r="2.5"/>
<circle class="e" cx="192.80" cy="88.76" r="2.5"/>
<circle class="e" cx="34.02" cy="70.79" r="2.5"/>
<circle class="e" cx="139.16" cy="191.51" r="2.5"/>
<circle class="e" cx="143.19" cy="31.18" r="2.5"/>
<circle class="e" cx="31.71" cy="146.90" r="2.5"/>
<circle class="e" cx="192.37" cy="136.86" r="2.5"/>
<circle class="e" cx="66.89" cy="35.55" r="2.5"/>
<circle class="f" cx="91.03" cy="195.30" r="2.9"/>
<circle class="e" cx="181.30" cy="60.96" r="2.5"/>
<circle class="e" cx="23.71" cy="99.11" r="2.5"/>
<circle class="e" cx="165.93" cy="177.57" r="2.5"/>
<circle class="e" cx="113.97" cy="23.36" r="2.5"/>
<circle class="e" cx="48.00" cy="172.44" r="2.5"/>
<circle class="e" cx="197.61" cy="106.96" r="2.5"/>
<circle class="e" cx="42.79" cy="54.09" r="2.5"/>
<circle class="e" cx="121.38" cy="197.91" r="2.5"/>
<circle class="e" cx="160.64" cy="38.50" r="2.5"/>
<circle class="e" cx="23.77" cy="129.68" r="2.5"/>
<circle class="e" cx="186.57" cy="154.95" r="2.5"/>
<circle class="e" cx="83.41" cy="26.12" r="2.5"/>
<circle class="e" cx="72.44" cy="191.08" r="2.5"/>
<circle class="e" cx="192.17" cy="76.66" r="2.5"/>
<circle class="e" cx="26.31" cy="80.16" r="2.5"/>
<circle class="e" cx="151.19" cy="189.80" r="2.5"/>
<circle class="e" cx="133.14" cy="24.32" r="2.5"/>
<circle class="e" cx="34.49" cy="158.76" r="2.5"/>
<circle class="e" cx="198.33" cy="126.20" r="2.5"/>
<circle class="e" cx="55.28" cy="39.40" r="2.5"/>
<circle class="e" cx="102.20" cy="200.30" r="2.5"/>
<circle class="f" cx="176.42" cy="49.71" r="2.9"/>
<circle class="e" cx="19.71" cy="110.72" r="2.5"/>
<circle class="e" cx="176.74" cy="171.69" r="2.5"/>
<circle class="e" cx="102.01" cy="20.41" r="2.5"/>
<circle class="e" cx="54.84" cy="182.71" r="2.5"/>
<circle class="e" cx="199.49" cy="94.75" r="2.5"/>
<circle class="e" cx="33.14" cy="61.84" r="2.5"/>
<circle class="e" cx="133.74" cy="198.70" r="2.5"/>
<circle class="e" cx="152.04" cy="29.56" r="2.5"/>
<circle class="e" cx="24.08" cy="142.10" r="2.5"/>
<circle class="e" cx="194.73" cy="145.55" r="2.5"/>
<circle class="e" cx="71.03" cy="27.54" r="2.5"/>
<circle class="e" cx="82.55" cy="198.39" r="2.5"/>
<circle class="e" cx="189.64" cy="64.42" r="2.5"/>
<circle class="e" cx="19.90" cy="90.92" r="2.5"/>
<circle class="e" cx="163.19" cy="186.18" r="2.5"/>
<circle class="e" cx="121.82" cy="18.88" r="2.5"/>
<circle class="e" cx="39.18" cy="170.43" r="2.5"/>
<circle class="e" cx="202.75" cy="114.41" r="2.5"/>
<circle class="e" cx="44.05" cy="45.12" r="2.5"/>
<circle class="e" cx="114.37" cy="203.66" r="2.5"/>
<circle class="e" cx="169.70" cy="39.00" r="2.5"/>
<circle class="e" cx="17.44" cy="123.18" r="2.5"/>
<circle class="e" cx="186.84" cy="164.02" r="2.5"/>
<circle class="e" cx="89.36" cy="19.25" r="2.5"/>
<circle class="e" cx="63.40" cy="192.11" r="2.5"/>
<circle class="e" cx="199.52" cy="82.01" r="2.5"/>
<circle class="e" cx="24.51" cy="71.23" r="2.5"/>
<circle class="e" cx="146.47" cy="197.59" r="2.5"/>
<circle class="f" cx="141.89" cy="21.77" r="2.9"/>
<circle class="e" cx="26.32" cy="154.71" r="2.5"/>
<circle class="e" cx="201.60" cy="134.72" r="2.5"/>
<circle class="e" cx="58.64" cy="30.90" r="2.5"/>
<circle class="e" cx="93.98" cy="204.29" r="2.5"/>
<circle class="e" cx="185.18" cy="52.33" r="2.5"/>
<circle class="e" cx="15.03" cy="102.86" r="2.5"/>
<circle class="e" cx="174.86" cy="180.65" r="2.5"/>
<circle class="e" cx="109.46" cy="15.08" r="2.5"/>
<circle class="e" cx="45.75" cy="181.59" r="2.5"/>
<circle class="e" cx="205.44" cy="101.73" r="2.5"/>
<circle class="e" cx="33.49" cy="52.67" r="2.5"/>
<circle class="e" cx="127.28" cy="205.23" r="2.5"/>
<circle class="e" cx="161.22" cy="29.12" r="2.5"/>
<circle class="e" cx="17.02" cy="136.21" r="2.5"/>
<circle class="e" cx="195.95" cy="154.67" r="2.5"/>
<circle class="e" cx="76.31" cy="20.00" r="2.5"/>
<circle class="e" cx="73.55" cy="200.38" r="2.5"/>
<circle class="e" cx="197.61" cy="69.05" r="2.5"/>
<circle class="e" cx="17.16" cy="82.11" r="2.5"/>
<circle class="e" cx="159.25" cy="194.53" r="2.5"/>
<circle class="e" cx="130.38" cy="15.40" r="2.5"/>
<circle class="e" cx="30.52" cy="167.20" r="2.5"/>
<circle class="e" cx="206.95" cy="122.66" r="2.5"/>
<circle class="e" cx="46.53" cy="36.20" r="2.5"/>
<circle class="e" cx="106.51" cy="208.56" r="2.5"/>
<circle class="e" cx="178.81" cy="40.72" r="2.5"/>
<circle class="e" cx="11.89" cy="115.74" r="2.5"/>
<circle class="e" cx="185.89" cy="173.26" r="2.5"/>
<circle class="e" cx="96.31" cy="13.08" r="2.5"/>
<circle class="e" cx="54.11" cy="191.95" r="2.5"/>
<circle class="e" cx="206.27" cy="88.42" r="2.5"/>
<circle class="e" cx="23.88" cy="61.95" r="2.5"/>
<circle class="e" cx="140.65" cy="204.87" r="2.5"/>
<circle class="e" cx="151.10" cy="20.35" r="2.5"/>
<circle class="e" cx="18.57" cy="149.52" r="2.5"/>
<circle class="e" cx="203.80" cy="143.79" r="2.5"/>
<circle class="e" cx="63.15" cy="22.73" r="2.5"/>
<circle class="e" cx="85.12" cy="207.26" r="2.5"/>
<circle class="e" cx="193.72" cy="56.15" r="2.5"/>
<circle class="e" cx="11.32" cy="94.26" r="2.5"/>
<circle class="e" cx="171.78" cy="189.50" r="2.5"/>
<circle class="e" cx="117.72" cy="10.64" r="2.5"/>
<circle class="e" cx="36.66" cy="179.27" r="2.5"/>
<circle class="e" cx="210.57" cy="109.59" r="2.5"/>
<circle class="e" cx="35.03" cy="43.41" r="2.5"/>
<circle class="e" cx="119.87" cy="211.01" r="2.5"/>
<circle class="e" cx="170.59" cy="29.87" r="2.5"/>
<circle class="e" cx="10.62" cy="129.31" r="2.5"/>
<circle class="e" cx="196.00" cy="164.09" r="2.5"/>
<circle class="e" cx="82.65" cy="13.02" r="2.5"/>
<circle class="e" cx="64.16" cy="201.23" r="2.5"/>
<circle class="e" cx="205.11" cy="74.77" r="2.5"/>
<circle class="e" cx="15.51" cy="72.80" r="2.5"/>
<circle class="e" cx="154.17" cy="202.51" r="2.5"/>
<circle class="e" cx="139.52" cy="12.95" r="2.5"/>
<circle class="e" cx="22.13" cy="162.82" r="2.5"/>
<circle class="e" cx="210.16" cy="131.57" r="2.5"/>
<circle class="e" cx="50.19" cy="27.46" r="2.5"/>
<circle class="e" cx="97.89" cy="212.52" r="2.5"/>
<circle class="e" cx="187.85" cy="43.63" r="2.5"/>
<circle class="e" cx="7.19" cy="107.48" r="2.5"/>
<circle class="e" cx="183.76" cy="182.52" r="2.5"/>
<circle class="e" cx="104.15" cy="7.70" r="2.5"/>
<circle class="e" cx="44.68" cy="190.62" r="2.5"/>
<circle class="e" cx="212.31" cy="95.79" r="2.5"/>
<circle class="e" cx="24.41" cy="52.43" r="2.5"/>
<circle class="e" cx="133.81" cy="211.53" r="2.5"/>
<circle class="e" cx="160.65" cy="20.07" r="2.5"/>
<circle class="e" cx="11.34" cy="143.27" r="2.5"/>
<circle class="e" cx="204.90" cy="153.29" r="2.5"/>
<circle class="e" cx="68.77" cy="14.98" r="2.5"/>
<circle class="e" cx="75.73" cy="209.16" r="2.5"/>
</svg>
<figcaption><b class="s b" style="left:273.48px;top:363.01px;font-size:12.8px;transform:scaleX(0.8855)">After one year.</b> <span class="s r" style="left:354.70px;top:363.01px;font-size:12.8px;transform:scaleX(0.905)">After a year, over 20% of</span> <span class="s r" style="left:280.53px;top:381.01px;font-size:12.8px;transform:scaleX(0.9408)">cited links may be dead or otherwise</span> <span class="s r" style="left:343.03px;top:399.01px;font-size:12.8px;transform:scaleX(0.9565)">inaccessible.</span></figcaption>
</figure>
<figure>
<svg width="220" height="220" viewBox="0 0 220 220" style="left:522px;top:116px" aria-hidden="true">
<circle class="f" cx="108.39" cy="115.29" r="2.9"/>
<circle class="f" cx="117.71" cy="108.10" r="2.9"/>
<circle class="f" cx="102.41" cy="107.22" r="2.9"/>
<circle class="f" cx="115.24" cy="120.10" r="2.9"/>
<circle class="f" cx="114.24" cy="99.50" r="2.9"/>
<circle class="f" cx="99.73" cy="117.10" r="2.9"/>
<circle class="f" cx="124.28" cy="113.57" r="2.9"/>
<circle class="f" cx="102.25" cy="98.59" r="2.9"/>
<circle class="f" cx="108.81" cy="126.19" r="2.9"/>
<circle class="f" cx="123.37" cy="99.97" r="2.9"/>
<circle class="f" cx="93.47" cy="109.99" r="2.9"/>
<circle class="f" cx="123.64" cy="123.37" r="2.9"/>
<circle class="f" cx="109.85" cy="91.85" r="2.9"/>
<circle class="f" cx="98.31" cy="125.69" r="2.9"/>
<circle class="f" cx="130.81" cy="107.89" r="2.9"/>
<circle class="f" cx="93.60" cy="98.77" r="2.9"/>
<circle class="f" cx="115.57" cy="131.64" r="2.9"/>
<circle class="f" cx="121.74" cy="91.39" r="2.9"/>
<circle class="f" cx="89.12" cy="117.63" r="2.9"/>
<circle class="f" cx="132.01" cy="120.38" r="2.9"/>
<circle class="f" cx="101.47" cy="88.60" r="2.9"/>
<circle class="f" cx="102.56" cy="133.72" r="2.9"/>
<circle class="f" cx="132.91" cy="98.93" r="2.9"/>
<circle class="f" cx="86.02" cy="104.21" r="2.9"/>
<circle class="f" cx="124.97" cy="132.57" r="2.9"/>
<circle class="f" cx="115.21" cy="84.40" r="2.9"/>
<circle class="e" cx="89.38" cy="127.33" r="2.5"/>
<circle class="f" cx="138.32" cy="112.85" r="2.9"/>
<circle class="f" cx="91.62" cy="90.07" r="2.9"/>
<circle class="e" cx="111.01" cy="139.25" r="2.5"/>
<circle class="f" cx="130.25" cy="89.06" r="2.9"/>
<circle class="e" cx="81.38" cy="113.47" r="2.5"/>
<circle class="f" cx="134.73" cy="128.71" r="2.9"/>
<circle class="e" cx="105.24" cy="80.71" r="2.5"/>
<circle class="f" cx="94.41" cy="136.85" r="2.9"/>
<circle class="f" cx="140.97" cy="102.28" r="2.9"/>
<circle class="f" cx="82.48" cy="96.24" r="2.9"/>
<circle class="f" cx="122.06" cy="140.80" r="2.9"/>
<circle class="f" cx="122.98" cy="80.41" r="2.9"/>
<circle class="f" cx="80.98" cy="124.88" r="2.9"/>
<circle class="f" cx="142.76" cy="120.40" r="2.9"/>
<circle class="f" cx="93.58" cy="81.51" r="2.9"/>
<circle class="f" cx="103.69" cy="144.15" r="2.9"/>
<circle class="f" cx="138.96" cy="90.50" r="2.9"/>
<circle class="e" cx="76.01" cy="106.42" r="2.5"/>
<circle class="e" cx="133.82" cy="137.55" r="2.5"/>
<circle class="f" cx="111.97" cy="74.87" r="2.9"/>
<circle class="f" cx="85.47" cy="136.50" r="2.9"/>
<circle class="f" cx="147.28" cy="108.67" r="2.9"/>
<circle class="f" cx="82.24" cy="87.22" r="2.9"/>
<circle class="f" cx="116.05" cy="147.57" r="2.9"/>
<circle class="f" cx="132.04" cy="79.57" r="2.9"/>
<circle class="f" cx="73.76" cy="119.29" r="2.9"/>
<circle class="e" cx="144.22" cy="129.46" r="2.5"/>
<circle class="f" cx="98.72" cy="73.85" r="2.9"/>
<circle class="f" cx="94.67" cy="146.25" r="2.9"/>
<circle class="f" cx="147.02" cy="95.14" r="2.9"/>
<circle class="f" cx="73.25" cy="97.49" r="2.9"/>
<circle class="f" cx="129.72" cy="146.00" r="2.9"/>
<circle class="f" cx="120.78" cy="71.46" r="2.9"/>
<circle class="f" cx="76.65" cy="132.98" r="2.9"/>
<circle class="e" cx="151.36" cy="117.29" r="2.5"/>
<circle class="f" cx="85.14" cy="78.08" r="2.9"/>
<circle class="f" cx="107.66" cy="152.31" r="2.9"/>
<circle class="f" cx="141.45" cy="81.82" r="2.9"/>
<circle class="f" cx="68.36" cy="111.19" r="2.9"/>
<circle class="f" cx="142.66" cy="139.11" r="2.9"/>
<circle class="e" cx="106.47" cy="67.81" r="2.5"/>
<circle class="f" cx="84.83" cy="145.41" r="2.9"/>
<circle class="e" cx="153.70" cy="102.49" r="2.5"/>
<circle class="f" cx="73.36" cy="87.51" r="2.9"/>
<circle class="e" cx="122.83" cy="153.29" r="2.5"/>
<circle class="f" cx="130.83" cy="70.80" r="2.9"/>
<circle class="e" cx="68.79" cy="126.60" r="2.5"/>
<circle class="f" cx="152.80" cy="127.37" r="2.9"/>
<circle class="f" cx="90.96" cy="69.67" r="2.9"/>
<circle class="e" cx="97.63" cy="154.54" r="2.5"/>
<circle class="e" cx="150.38" cy="87.02" r="2.5"/>
<circle class="e" cx="65.33" cy="101.27" r="2.5"/>
<circle class="f" cx="138.13" cy="148.51" r="2.9"/>
<circle class="f" cx="116.22" cy="63.97" r="2.9"/>
<circle class="e" cx="75.02" cy="141.58" r="2.5"/>
<circle class="f" cx="158.33" cy="112.01" r="2.9"/>
<circle class="f" cx="76.43" cy="77.33" r="2.9"/>
<circle class="f" cx="113.62" cy="158.71" r="2.9"/>
<circle class="f" cx="141.33" cy="73.08" r="2.9"/>
<circle class="f" cx="62.60" cy="117.76" r="2.9"/>
<circle class="f" cx="151.34" cy="138.11" r="2.9"/>
<circle class="f" cx="99.35" cy="62.73" r="2.9"/>
<circle class="f" cx="86.70" cy="153.94" r="2.9"/>
<circle class="f" cx="158.04" cy="94.90" r="2.9"/>
<circle class="f" cx="65.05" cy="90.23" r="2.9"/>
<circle class="f" cx="130.82" cy="156.85" r="2.9"/>
<circle class="f" cx="127.30" cy="62.80" r="2.9"/>
<circle class="f" cx="66.04" cy="134.90" r="2.9"/>
<circle class="f" cx="160.42" cy="123.05" r="2.9"/>
<circle class="f" cx="82.41" cy="67.75" r="2.9"/>
<circle class="f" cx="102.68" cy="161.70" r="2.9"/>
<circle class="e" cx="151.45" cy="78.31" r="2.5"/>
<circle class="f" cx="58.69" cy="107.01" r="2.9"/>
<circle class="f" cx="146.91" cy="148.71" r="2.9"/>
<circle class="f" cx="109.85" cy="57.92" r="2.9"/>
<circle class="e" cx="75.68" cy="150.35" r="2.5"/>
<circle class="e" cx="163.74" cy="105.06" r="2.5"/>
<circle class="e" cx="67.75" cy="78.85" r="2.5"/>
<circle class="e" cx="121.08" cy="163.41" r="2.5"/>
<circle class="e" cx="138.96" cy="64.57" r="2.5"/>
<circle class="f" cx="58.63" cy="125.66" r="2.9"/>
<circle class="e" cx="159.60" cy="134.92" r="2.5"/>
<circle class="f" cx="91.09" cy="59.55" r="2.9"/>
<circle class="e" cx="90.69" cy="161.87" r="2.5"/>
<circle class="f" cx="160.41" cy="86.34" r="2.9"/>
<circle class="f" cx="57.53" cy="94.98" r="2.9"/>
<circle class="e" cx="139.58" cy="158.39" r="2.5"/>
<circle class="f" cx="121.83" cy="55.76" r="2.9"/>
<circle class="f" cx="65.35" cy="143.80" r="2.9"/>
<circle class="e" cx="166.91" cy="116.92" r="2.5"/>
<circle class="f" cx="73.46" cy="67.93" r="2.9"/>
<circle class="e" cx="109.43" cy="167.60" r="2.5"/>
<circle class="f" cx="150.40" cy="69.40" r="2.9"/>
<circle class="e" cx="53.46" cy="114.32" r="2.5"/>
<circle class="f" cx="155.71" cy="146.81" r="2.9"/>
<circle class="e" cx="102.04" cy="53.40" r="2.5"/>
<circle class="f" cx="78.42" cy="158.96" r="2.9"/>
<circle class="f" cx="167.50" cy="96.83" r="2.9"/>
<circle class="f" cx="59.42" cy="82.41" r="2.9"/>
<circle class="f" cx="129.66" cy="166.39" r="2.9"/>
<circle class="f" cx="134.60" cy="56.59" r="2.9"/>
<circle class="e" cx="56.48" cy="134.51" r="2.5"/>
<circle class="e" cx="167.15" cy="129.80" r="2.5"/>
<circle class="f" cx="82.04" cy="58.25" r="2.9"/>
<circle class="f" cx="96.52" cy="168.92" r="2.9"/>
<circle class="e" cx="160.85" cy="77.19" r="2.5"/>
<circle class="e" cx="51.04" cy="101.47" r="2.5"/>
<circle class="f" cx="148.77" cy="157.95" r="2.9"/>
<circle class="e" cx="114.73" cy="49.88" r="2.5"/>
<circle class="f" cx="66.66" cy="152.94" r="2.9"/>
<circle class="f" cx="172.11" cy="109.26" r="2.9"/>
<circle class="e" cx="64.46" cy="70.10" r="2.5"/>
<circle class="f" cx="117.57" cy="172.06" r="2.9"/>
<circle class="e" cx="147.38" cy="60.60" r="2.5"/>
<circle class="f" cx="49.77" cy="122.87" r="2.9"/>
<circle class="e" cx="164.21" cy="142.97" r="2.5"/>
<circle class="e" cx="93.15" cy="50.52" r="2.5"/>
<circle class="f" cx="83.07" cy="167.09" r="2.9"/>
<circle class="f" cx="169.54" cy="87.67" r="2.9"/>
<circle class="e" cx="51.73" cy="87.82" r="2.5"/>
<circle class="f" cx="139.00" cy="167.56" r="2.9"/>
<circle class="e" cx="128.48" cy="49.42" r="2.5"/>
<circle class="e" cx="56.19" cy="143.96" r="2.5"/>
<circle class="f" cx="173.74" cy="123.01" r="2.9"/>
<circle class="e" cx="72.57" cy="58.83" r="2.5"/>
<circle class="f" cx="103.93" cy="174.87" r="2.9"/>
<circle class="e" cx="159.37" cy="67.78" r="2.5"/>
<circle class="e" cx="45.78" cy="109.43" r="2.5"/>
<circle class="f" cx="158.04" cy="155.60" r="2.9"/>
<circle class="f" cx="106.28" cy="45.38" r="2.9"/>
<circle class="f" cx="69.88" cy="161.98" r="2.9"/>
<circle class="e" cx="175.82" cy="100.40" r="2.5"/>
<circle class="f" cx="55.72" cy="74.16" r="2.9"/>
<circle class="f" cx="126.78" cy="174.95" r="2.9"/>
<circle class="e" cx="142.51" cy="52.25" r="2.5"/>
<circle class="f" cx="47.74" cy="132.34" r="2.9"/>
<circle class="f" cx="172.10" cy="137.32" r="2.9"/>
<circle class="f" cx="83.49" cy="49.38" r="2.9"/>
<circle class="e" cx="89.45" cy="174.45" r="2.5"/>
<circle class="e" cx="169.79" cy="77.92" r="2.5"/>
<circle class="f" cx="44.96" cy="94.88" r="2.9"/>
<circle class="e" cx="148.77" cy="166.90" r="2.5"/>
<circle class="f" cx="120.79" cy="43.31" r="2.9"/>
<circle class="f" cx="57.75" cy="153.67" r="2.9"/>
<circle class="f" cx="179.14" cy="114.76" r="2.9"/>
<circle class="e" cx="63.01" cy="61.30" r="2.5"/>
<circle class="f" cx="112.67" cy="179.50" r="2.9"/>
<circle class="e" cx="156.02" cy="58.45" r="2.5"/>
<circle class="f" cx="41.96" cy="118.60" r="2.9"/>
<circle class="f" cx="167.05" cy="151.39" r="2.9"/>
<circle class="e" cx="96.77" cy="42.41" r="2.5"/>
<circle class="e" cx="74.92" cy="170.60" r="2.5"/>
<circle class="e" cx="177.91" cy="90.61" r="2.5"/>
<circle class="e" cx="47.57" cy="80.00" r="2.5"/>
<circle class="e" cx="136.75" cy="176.13" r="2.5"/>
<circle class="e" cx="135.93" cy="44.64" r="2.5"/>
<circle class="e" cx="47.48" cy="142.42" r="2.5"/>
<circle class="f" cx="179.11" cy="130.04" r="2.9"/>
<circle class="e" cx="73.39" cy="50.04" r="2.5"/>
<circle class="e" cx="97.37" cy="180.78" r="2.5"/>
<circle class="f" cx="168.20" cy="67.88" r="2.9"/>
<circle class="f" cx="39.36" cy="103.38" r="2.9"/>
<circle class="e" cx="158.66" cy="164.39" r="2.5"/>
<circle class="f" cx="111.78" cy="38.49" r="2.9"/>
<circle class="e" cx="61.17" cy="163.32" r="2.5"/>
<circle class="e" cx="183.13" cy="105.31" r="2.5"/>
<circle class="e" cx="53.68" cy="65.60" r="2.5"/>
<circle class="e" cx="122.48" cy="182.62" r="2.5"/>
<circle class="e" cx="150.87" cy="49.52" r="2.5"/>
<circle class="e" cx="39.75" cy="128.69" r="2.5"/>
<circle class="e" cx="175.51" cy="145.42" r="2.5"/>
<circle class="e" cx="86.47" cy="41.11" r="2.5"/>
<circle class="e" cx="81.66" cy="178.51" r="2.5"/>
<circle class="f" cx="178.26" cy="80.20" r="2.9"/>
<circle class="f" cx="40.28" cy="87.46" r="2.9"/>
<circle class="e" cx="147.19" cy="175.53" r="2.5"/>
<circle class="f" cx="127.80" cy="38.04" r="2.9"/>
<circle class="f" cx="49.03" cy="152.80" r="2.9"/>
<circle class="e" cx="184.96" cy="121.31" r="2.5"/>
<circle class="f" cx="63.17" cy="52.54" r="2.9"/>
<circle class="e" cx="106.63" cy="185.84" r="2.5"/>
<circle class="f" cx="164.77" cy="57.88" r="2.9"/>
<circle class="e" cx="35.15" cy="113.10" r="2.5"/>
<circle class="e" cx="168.34" cy="160.05" r="2.5"/>
<circle class="e" cx="101.69" cy="35.17" r="2.5"/>
<circle class="f" cx="66.39" cy="172.60" r="2.9"/>
<circle class="e" cx="185.53" cy="94.92" r="2.5"/>
<circle class="e" cx="44.88" cy="71.67" r="2.5"/>
<circle class="f" cx="133.09" cy="184.08" r="2.9"/>
<circle class="e" cx="144.01" cy="41.28" r="2.5"/>
<circle class="f" cx="39.25" cy="139.43" r="2.9"/>
<circle class="e" cx="183.12" cy="137.81" r="2.5"/>
<circle class="e" cx="75.70" cy="41.60" r="2.5"/>
<circle class="e" cx="89.96" cy="185.43" r="2.5"/>
<circle class="e" cx="176.80" cy="69.48" r="2.5"/>
<circle class="e" cx="34.12" cy="96.38" r="2.5"/>
<circle class="e" cx="157.77" cy="173.10" r="2.5"/>
<circle class="e" cx="118.33" cy="32.69" r="2.5"/>
<circle class="e" cx="52.42" cy="163.15" r="2.5"/>
<circle class="f" cx="189.45" cy="111.36" r="2.9"/>
<circle class="f" cx="53.12" cy="56.87" r="2.9"/>
<circle class="e" cx="116.98" cy="189.42" r="2.5"/>
<circle class="f" cx="159.53" cy="48.24" r="2.9"/>
<circle class="f" cx="32.51" cy="123.77" r="2.9"/>
<circle class="e" cx="177.50" cy="153.94" r="2.5"/>
<circle class="e" cx="90.78" cy="33.49" r="2.5"/>
<circle class="f" cx="73.33" cy="181.20" r="2.9"/>
<circle class="e" cx="186.21" cy="83.87" r="2.5"/>
<circle class="e" cx="36.91" cy="79.38" r="2.5"/>
<circle class="e" cx="144.20" cy="183.76" r="2.5"/>
<circle class="e" cx="135.58" cy="34.01" r="2.5"/>
<circle class="e" cx="40.57" cy="150.50" r="2.5"/>
<circle class="f" cx="189.63" cy="128.73" r="2.9"/>
<circle class="f" cx="64.76" cy="43.92" r="2.9"/>
<circle class="e" cx="99.62" cy="191.11" r="2.5"/>
<circle class="e" cx="173.49" cy="58.75" r="2.5"/>
<circle class="e" cx="29.32" cy="106.55" r="2.5"/>
<circle class="e" cx="168.19" cy="168.82" r="2.5"/>
<circle class="e" cx="107.73" cy="28.81" r="2.5"/>
<circle class="f" cx="57.64" cy="173.18" r="2.9"/>
<circle class="f" cx="192.37" cy="100.42" r="2.9"/>
<circle class="e" cx="43.57" cy="62.98" r="2.5"/>
<circle class="f" cx="128.18" cy="191.36" r="2.9"/>
<circle class="e" cx="152.55" cy="39.24" r="2.5"/>
<circle class="f" cx="31.59" cy="135.13" r="2.9"/>
<circle class="f" cx="185.86" cy="146.16" r="2.9"/>
<circle class="f" cx="79.34" cy="33.60" r="2.9"/>
<circle class="e" cx="81.85" cy="188.86" r="2.5"/>
<circle class="e" cx="185.08" cy="72.45" r="2.5"/>
<circle class="e" cx="30.03" cy="88.59" r="2.5"/>
<circle class="f" cx="155.51" cy="181.60" r="2.9"/>
<circle class="e" cx="125.76" cy="27.96" r="2.5"/>
<circle class="f" cx="43.75" cy="161.60" r="2.9"/>
<circle class="e" cx="194.79" cy="118.37" r="2.5"/>
<circle class="e" cx="53.94" cy="48.09" r="2.5"/>
<circle class="f" cx="110.43" cy="195.33" r="2.9"/>
<circle class="e" cx="168.35" cy="48.33" r="2.5"/>
<circle class="f" cx="26.07" cy="117.73" r="2.9"/>
<circle class="e" cx="178.15" cy="162.74" r="2.5"/>
<circle class="e" cx="96.26" cy="26.57" r="2.5"/>
<circle class="e" cx="64.60" cy="182.59" r="2.5"/>
<circle class="e" cx="193.58" cy="88.76" r="2.5"/>
<circle class="f" cx="34.80" cy="70.79" r="2.9"/>
<circle class="e" cx="139.94" cy="191.51" r="2.5"/>
<circle class="e" cx="143.97" cy="31.18" r="2.5"/>
<circle class="f" cx="32.49" cy="146.90" r="2.9"/>
<circle class="e" cx="193.15" cy="136.86" r="2.5"/>
<circle class="f" cx="67.67" cy="35.55" r="2.9"/>
<circle class="f" cx="91.81" cy="195.30" r="2.9"/>
<circle class="e" cx="182.08" cy="60.96" r="2.5"/>
<circle class="f" cx="24.49" cy="99.11" r="2.9"/>
<circle class="e" cx="166.71" cy="177.57" r="2.5"/>
<circle class="f" cx="114.75" cy="23.36" r="2.9"/>
<circle class="e" cx="48.78" cy="172.44" r="2.5"/>
<circle class="e" cx="198.39" cy="106.96" r="2.5"/>
<circle class="f" cx="43.57" cy="54.09" r="2.9"/>
<circle class="e" cx="122.16" cy="197.91" r="2.5"/>
<circle class="e" cx="161.42" cy="38.50" r="2.5"/>
<circle class="e" cx="24.55" cy="129.68" r="2.5"/>
<circle class="e" cx="187.35" cy="154.95" r="2.5"/>
<circle class="e" cx="84.19" cy="26.12" r="2.5"/>
<circle class="f" cx="73.22" cy="191.08" r="2.9"/>
<circle class="e" cx="192.95" cy="76.66" r="2.5"/>
<circle class="e" cx="27.09" cy="80.16" r="2.5"/>
<circle class="f" cx="151.97" cy="189.80" r="2.9"/>
<circle class="e" cx="133.92" cy="24.32" r="2.5"/>
<circle class="e" cx="35.27" cy="158.76" r="2.5"/>
<circle class="e" cx="199.11" cy="126.20" r="2.5"/>
<circle class="e" cx="56.06" cy="39.40" r="2.5"/>
<circle class="f" cx="102.98" cy="200.30" r="2.9"/>
<circle class="f" cx="177.20" cy="49.71" r="2.9"/>
<circle class="e" cx="20.49" cy="110.72" r="2.5"/>
<circle class="f" cx="177.52" cy="171.69" r="2.9"/>
<circle class="e" cx="102.79" cy="20.41" r="2.5"/>
<circle class="e" cx="55.62" cy="182.71" r="2.5"/>
<circle class="e" cx="200.27" cy="94.75" r="2.5"/>
<circle class="e" cx="33.92" cy="61.84" r="2.5"/>
<circle class="e" cx="134.52" cy="198.70" r="2.5"/>
<circle class="f" cx="152.82" cy="29.56" r="2.9"/>
<circle class="e" cx="24.86" cy="142.10" r="2.5"/>
<circle class="e" cx="195.51" cy="145.55" r="2.5"/>
<circle class="e" cx="71.81" cy="27.54" r="2.5"/>
<circle class="e" cx="83.33" cy="198.39" r="2.5"/>
<circle class="f" cx="190.42" cy="64.42" r="2.9"/>
<circle class="e" cx="20.68" cy="90.92" r="2.5"/>
<circle class="e" cx="163.97" cy="186.18" r="2.5"/>
<circle class="e" cx="122.60" cy="18.88" r="2.5"/>
<circle class="f" cx="39.96" cy="170.43" r="2.9"/>
<circle class="e" cx="203.53" cy="114.41" r="2.5"/>
<circle class="e" cx="44.83" cy="45.12" r="2.5"/>
<circle class="e" cx="115.15" cy="203.66" r="2.5"/>
<circle class="e" cx="170.48" cy="39.00" r="2.5"/>
<circle class="f" cx="18.22" cy="123.18" r="2.9"/>
<circle class="e" cx="187.62" cy="164.02" r="2.5"/>
<circle class="e" cx="90.14" cy="19.25" r="2.5"/>
<circle class="e" cx="64.18" cy="192.11" r="2.5"/>
<circle class="e" cx="200.30" cy="82.01" r="2.5"/>
<circle class="e" cx="25.29" cy="71.23" r="2.5"/>
<circle class="f" cx="147.25" cy="197.59" r="2.9"/>
<circle class="f" cx="142.67" cy="21.77" r="2.9"/>
<circle class="e" cx="27.10" cy="154.71" r="2.5"/>
<circle class="e" cx="202.38" cy="134.72" r="2.5"/>
<circle class="e" cx="59.42" cy="30.90" r="2.5"/>
<circle class="e" cx="94.76" cy="204.29" r="2.5"/>
<circle class="e" cx="185.96" cy="52.33" r="2.5"/>
<circle class="e" cx="15.81" cy="102.86" r="2.5"/>
<circle class="e" cx="175.64" cy="180.65" r="2.5"/>
<circle class="e" cx="110.24" cy="15.08" r="2.5"/>
<circle class="e" cx="46.53" cy="181.59" r="2.5"/>
<circle class="e" cx="206.22" cy="101.73" r="2.5"/>
<circle class="e" cx="34.27" cy="52.67" r="2.5"/>
<circle class="e" cx="128.06" cy="205.23" r="2.5"/>
<circle class="f" cx="162.00" cy="29.12" r="2.9"/>
<circle class="e" cx="17.80" cy="136.21" r="2.5"/>
<circle class="e" cx="196.73" cy="154.67" r="2.5"/>
<circle class="e" cx="77.09" cy="20.00" r="2.5"/>
<circle class="e" cx="74.33" cy="200.38" r="2.5"/>
<circle class="e" cx="198.39" cy="69.05" r="2.5"/>
<circle class="e" cx="17.94" cy="82.11" r="2.5"/>
<circle class="e" cx="160.03" cy="194.53" r="2.5"/>
<circle class="e" cx="131.16" cy="15.40" r="2.5"/>
<circle class="e" cx="31.30" cy="167.20" r="2.5"/>
<circle class="e" cx="207.73" cy="122.66" r="2.5"/>
<circle class="e" cx="47.31" cy="36.20" r="2.5"/>
<circle class="e" cx="107.29" cy="208.56" r="2.5"/>
<circle class="e" cx="179.59" cy="40.72" r="2.5"/>
<circle class="e" cx="12.67" cy="115.74" r="2.5"/>
<circle class="e" cx="186.67" cy="173.26" r="2.5"/>
<circle class="e" cx="97.09" cy="13.08" r="2.5"/>
<circle class="e" cx="54.89" cy="191.95" r="2.5"/>
<circle class="f" cx="207.05" cy="88.42" r="2.9"/>
<circle class="e" cx="24.66" cy="61.95" r="2.5"/>
<circle class="e" cx="141.43" cy="204.87" r="2.5"/>
<circle class="e" cx="151.88" cy="20.35" r="2.5"/>
<circle class="e" cx="19.35" cy="149.52" r="2.5"/>
<circle class="e" cx="204.58" cy="143.79" r="2.5"/>
<circle class="e" cx="63.93" cy="22.73" r="2.5"/>
<circle class="e" cx="85.90" cy="207.26" r="2.5"/>
<circle class="e" cx="194.50" cy="56.15" r="2.5"/>
<circle class="e" cx="12.10" cy="94.26" r="2.5"/>
<circle class="e" cx="172.56" cy="189.50" r="2.5"/>
<circle class="e" cx="118.50" cy="10.64" r="2.5"/>
<circle class="e" cx="37.44" cy="179.27" r="2.5"/>
<circle class="e" cx="211.35" cy="109.59" r="2.5"/>
<circle class="e" cx="35.81" cy="43.41" r="2.5"/>
<circle class="e" cx="120.65" cy="211.01" r="2.5"/>
<circle class="e" cx="171.37" cy="29.87" r="2.5"/>
<circle class="e" cx="11.40" cy="129.31" r="2.5"/>
<circle class="e" cx="196.78" cy="164.09" r="2.5"/>
<circle class="e" cx="83.43" cy="13.02" r="2.5"/>
<circle class="e" cx="64.94" cy="201.23" r="2.5"/>
<circle class="e" cx="205.89" cy="74.77" r="2.5"/>
<circle class="e" cx="16.29" cy="72.80" r="2.5"/>
<circle class="e" cx="154.95" cy="202.51" r="2.5"/>
<circle class="e" cx="140.30" cy="12.95" r="2.5"/>
<circle class="f" cx="22.91" cy="162.82" r="2.9"/>
<circle class="e" cx="210.94" cy="131.57" r="2.5"/>
<circle class="e" cx="50.97" cy="27.46" r="2.5"/>
<circle class="e" cx="98.67" cy="212.52" r="2.5"/>
<circle class="e" cx="188.63" cy="43.63" r="2.5"/>
<circle class="e" cx="7.97" cy="107.48" r="2.5"/>
<circle class="e" cx="184.54" cy="182.52" r="2.5"/>
<circle class="f" cx="104.93" cy="7.70" r="2.9"/>
<circle class="e" cx="45.46" cy="190.62" r="2.5"/>
<circle class="e" cx="213.09" cy="95.79" r="2.5"/>
<circle class="e" cx="25.19" cy="52.43" r="2.5"/>
<circle class="e" cx="134.59" cy="211.53" r="2.5"/>
<circle class="e" cx="161.43" cy="20.07" r="2.5"/>
<circle class="e" cx="12.12" cy="143.27" r="2.5"/>
<circle class="e" cx="205.68" cy="153.29" r="2.5"/>
<circle class="f" cx="69.55" cy="14.98" r="2.9"/>
<circle class="e" cx="76.51" cy="209.16" r="2.5"/>
</svg>
<figcaption><b class="s b" style="left:536.98px;top:363.01px;font-size:12.8px;transform:scaleX(0.8968)">After five years.</b> <span class="s r" style="left:625.65px;top:363.01px;font-size:12.8px;transform:scaleX(0.938)">After five years, the</span> <span class="s r" style="left:530.30px;top:381.01px;font-size:12.8px;transform:scaleX(0.9268)">situation is much worse — over 50% of</span> <span class="s r" style="left:561.36px;top:399.01px;font-size:12.8px;transform:scaleX(0.9541)">cited links can be affected.</span></figcaption>
</figure>
<figure>
<svg width="220" height="220" viewBox="0 0 220 220" style="left:778px;top:116px" aria-hidden="true">
<circle class="f" cx="108.26" cy="115.29" r="2.9"/>
<circle class="f" cx="117.58" cy="108.10" r="2.9"/>
<circle class="f" cx="102.28" cy="107.22" r="2.9"/>
<circle class="f" cx="115.11" cy="120.10" r="2.9"/>
<circle class="f" cx="114.11" cy="99.50" r="2.9"/>
<circle class="f" cx="99.60" cy="117.10" r="2.9"/>
<circle class="f" cx="124.15" cy="113.57" r="2.9"/>
<circle class="f" cx="102.12" cy="98.59" r="2.9"/>
<circle class="f" cx="108.68" cy="126.19" r="2.9"/>
<circle class="f" cx="123.24" cy="99.97" r="2.9"/>
<circle class="f" cx="93.34" cy="109.99" r="2.9"/>
<circle class="f" cx="123.51" cy="123.37" r="2.9"/>
<circle class="f" cx="109.72" cy="91.85" r="2.9"/>
<circle class="f" cx="98.18" cy="125.69" r="2.9"/>
<circle class="f" cx="130.68" cy="107.89" r="2.9"/>
<circle class="f" cx="93.47" cy="98.77" r="2.9"/>
<circle class="f" cx="115.44" cy="131.64" r="2.9"/>
<circle class="f" cx="121.61" cy="91.39" r="2.9"/>
<circle class="f" cx="88.99" cy="117.63" r="2.9"/>
<circle class="f" cx="131.88" cy="120.38" r="2.9"/>
<circle class="f" cx="101.34" cy="88.60" r="2.9"/>
<circle class="f" cx="102.43" cy="133.72" r="2.9"/>
<circle class="f" cx="132.78" cy="98.93" r="2.9"/>
<circle class="f" cx="85.89" cy="104.21" r="2.9"/>
<circle class="f" cx="124.84" cy="132.57" r="2.9"/>
<circle class="f" cx="115.08" cy="84.40" r="2.9"/>
<circle class="f" cx="89.25" cy="127.33" r="2.9"/>
<circle class="f" cx="138.19" cy="112.85" r="2.9"/>
<circle class="f" cx="91.49" cy="90.07" r="2.9"/>
<circle class="f" cx="110.88" cy="139.25" r="2.9"/>
<circle class="f" cx="130.12" cy="89.06" r="2.9"/>
<circle class="e" cx="81.25" cy="113.47" r="2.5"/>
<circle class="f" cx="134.60" cy="128.71" r="2.9"/>
<circle class="f" cx="105.11" cy="80.71" r="2.9"/>
<circle class="f" cx="94.28" cy="136.85" r="2.9"/>
<circle class="f" cx="140.84" cy="102.28" r="2.9"/>
<circle class="f" cx="82.35" cy="96.24" r="2.9"/>
<circle class="f" cx="121.93" cy="140.80" r="2.9"/>
<circle class="f" cx="122.85" cy="80.41" r="2.9"/>
<circle class="f" cx="80.85" cy="124.88" r="2.9"/>
<circle class="f" cx="142.63" cy="120.40" r="2.9"/>
<circle class="f" cx="93.45" cy="81.51" r="2.9"/>
<circle class="f" cx="103.56" cy="144.15" r="2.9"/>
<circle class="f" cx="138.83" cy="90.50" r="2.9"/>
<circle class="f" cx="75.88" cy="106.42" r="2.9"/>
<circle class="f" cx="133.69" cy="137.55" r="2.9"/>
<circle class="f" cx="111.84" cy="74.87" r="2.9"/>
<circle class="f" cx="85.34" cy="136.50" r="2.9"/>
<circle class="f" cx="147.15" cy="108.67" r="2.9"/>
<circle class="f" cx="82.11" cy="87.22" r="2.9"/>
<circle class="f" cx="115.92" cy="147.57" r="2.9"/>
<circle class="f" cx="131.91" cy="79.57" r="2.9"/>
<circle class="f" cx="73.63" cy="119.29" r="2.9"/>
<circle class="f" cx="144.09" cy="129.46" r="2.9"/>
<circle class="f" cx="98.59" cy="73.85" r="2.9"/>
<circle class="f" cx="94.54" cy="146.25" r="2.9"/>
<circle class="f" cx="146.89" cy="95.14" r="2.9"/>
<circle class="f" cx="73.12" cy="97.49" r="2.9"/>
<circle class="f" cx="129.59" cy="146.00" r="2.9"/>
<circle class="f" cx="120.65" cy="71.46" r="2.9"/>
<circle class="f" cx="76.52" cy="132.98" r="2.9"/>
<circle class="f" cx="151.23" cy="117.29" r="2.9"/>
<circle class="f" cx="85.01" cy="78.08" r="2.9"/>
<circle class="f" cx="107.53" cy="152.31" r="2.9"/>
<circle class="f" cx="141.32" cy="81.82" r="2.9"/>
<circle class="f" cx="68.23" cy="111.19" r="2.9"/>
<circle class="f" cx="142.53" cy="139.11" r="2.9"/>
<circle class="f" cx="106.34" cy="67.81" r="2.9"/>
<circle class="f" cx="84.70" cy="145.41" r="2.9"/>
<circle class="e" cx="153.57" cy="102.49" r="2.5"/>
<circle class="f" cx="73.23" cy="87.51" r="2.9"/>
<circle class="f" cx="122.70" cy="153.29" r="2.9"/>
<circle class="f" cx="130.70" cy="70.80" r="2.9"/>
<circle class="f" cx="68.66" cy="126.60" r="2.9"/>
<circle class="f" cx="152.67" cy="127.37" r="2.9"/>
<circle class="f" cx="90.83" cy="69.67" r="2.9"/>
<circle class="e" cx="97.50" cy="154.54" r="2.5"/>
<circle class="f" cx="150.25" cy="87.02" r="2.9"/>
<circle class="f" cx="65.20" cy="101.27" r="2.9"/>
<circle class="f" cx="138.00" cy="148.51" r="2.9"/>
<circle class="f" cx="116.09" cy="63.97" r="2.9"/>
<circle class="f" cx="74.89" cy="141.58" r="2.9"/>
<circle class="f" cx="158.20" cy="112.01" r="2.9"/>
<circle class="f" cx="76.30" cy="77.33" r="2.9"/>
<circle class="f" cx="113.49" cy="158.71" r="2.9"/>
<circle class="f" cx="141.20" cy="73.08" r="2.9"/>
<circle class="f" cx="62.47" cy="117.76" r="2.9"/>
<circle class="f" cx="151.21" cy="138.11" r="2.9"/>
<circle class="f" cx="99.22" cy="62.73" r="2.9"/>
<circle class="f" cx="86.57" cy="153.94" r="2.9"/>
<circle class="f" cx="157.91" cy="94.90" r="2.9"/>
<circle class="f" cx="64.92" cy="90.23" r="2.9"/>
<circle class="f" cx="130.69" cy="156.85" r="2.9"/>
<circle class="f" cx="127.17" cy="62.80" r="2.9"/>
<circle class="f" cx="65.91" cy="134.90" r="2.9"/>
<circle class="f" cx="160.29" cy="123.05" r="2.9"/>
<circle class="f" cx="82.28" cy="67.75" r="2.9"/>
<circle class="f" cx="102.55" cy="161.70" r="2.9"/>
<circle class="e" cx="151.32" cy="78.31" r="2.5"/>
<circle class="f" cx="58.56" cy="107.01" r="2.9"/>
<circle class="f" cx="146.78" cy="148.71" r="2.9"/>
<circle class="f" cx="109.72" cy="57.92" r="2.9"/>
<circle class="e" cx="75.55" cy="150.35" r="2.5"/>
<circle class="e" cx="163.61" cy="105.06" r="2.5"/>
<circle class="e" cx="67.62" cy="78.85" r="2.5"/>
<circle class="f" cx="120.95" cy="163.41" r="2.9"/>
<circle class="f" cx="138.83" cy="64.57" r="2.9"/>
<circle class="f" cx="58.50" cy="125.66" r="2.9"/>
<circle class="e" cx="159.47" cy="134.92" r="2.5"/>
<circle class="f" cx="90.96" cy="59.55" r="2.9"/>
<circle class="e" cx="90.56" cy="161.87" r="2.5"/>
<circle class="f" cx="160.28" cy="86.34" r="2.9"/>
<circle class="f" cx="57.40" cy="94.98" r="2.9"/>
<circle class="f" cx="139.45" cy="158.39" r="2.9"/>
<circle class="f" cx="121.70" cy="55.76" r="2.9"/>
<circle class="f" cx="65.22" cy="143.80" r="2.9"/>
<circle class="f" cx="166.78" cy="116.92" r="2.9"/>
<circle class="f" cx="73.33" cy="67.93" r="2.9"/>
<circle class="e" cx="109.30" cy="167.60" r="2.5"/>
<circle class="f" cx="150.27" cy="69.40" r="2.9"/>
<circle class="f" cx="53.33" cy="114.32" r="2.9"/>
<circle class="f" cx="155.58" cy="146.81" r="2.9"/>
<circle class="f" cx="101.91" cy="53.40" r="2.9"/>
<circle class="f" cx="78.29" cy="158.96" r="2.9"/>
<circle class="f" cx="167.37" cy="96.83" r="2.9"/>
<circle class="f" cx="59.29" cy="82.41" r="2.9"/>
<circle class="f" cx="129.53" cy="166.39" r="2.9"/>
<circle class="f" cx="134.47" cy="56.59" r="2.9"/>
<circle class="e" cx="56.35" cy="134.51" r="2.5"/>
<circle class="f" cx="167.02" cy="129.80" r="2.9"/>
<circle class="f" cx="81.91" cy="58.25" r="2.9"/>
<circle class="f" cx="96.39" cy="168.92" r="2.9"/>
<circle class="f" cx="160.72" cy="77.19" r="2.9"/>
<circle class="f" cx="50.91" cy="101.47" r="2.9"/>
<circle class="f" cx="148.64" cy="157.95" r="2.9"/>
<circle class="e" cx="114.60" cy="49.88" r="2.5"/>
<circle class="f" cx="66.53" cy="152.94" r="2.9"/>
<circle class="f" cx="171.98" cy="109.26" r="2.9"/>
<circle class="f" cx="64.33" cy="70.10" r="2.9"/>
<circle class="f" cx="117.44" cy="172.06" r="2.9"/>
<circle class="e" cx="147.25" cy="60.60" r="2.5"/>
<circle class="f" cx="49.64" cy="122.87" r="2.9"/>
<circle class="f" cx="164.08" cy="142.97" r="2.9"/>
<circle class="f" cx="93.02" cy="50.52" r="2.9"/>
<circle class="f" cx="82.94" cy="167.09" r="2.9"/>
<circle class="f" cx="169.41" cy="87.67" r="2.9"/>
<circle class="f" cx="51.60" cy="87.82" r="2.9"/>
<circle class="f" cx="138.87" cy="167.56" r="2.9"/>
<circle class="e" cx="128.35" cy="49.42" r="2.5"/>
<circle class="f" cx="56.06" cy="143.96" r="2.9"/>
<circle class="f" cx="173.61" cy="123.01" r="2.9"/>
<circle class="f" cx="72.44" cy="58.83" r="2.9"/>
<circle class="f" cx="103.80" cy="174.87" r="2.9"/>
<circle class="e" cx="159.24" cy="67.78" r="2.5"/>
<circle class="e" cx="45.65" cy="109.43" r="2.5"/>
<circle class="f" cx="157.91" cy="155.60" r="2.9"/>
<circle class="f" cx="106.15" cy="45.38" r="2.9"/>
<circle class="f" cx="69.75" cy="161.98" r="2.9"/>
<circle class="e" cx="175.69" cy="100.40" r="2.5"/>
<circle class="f" cx="55.59" cy="74.16" r="2.9"/>
<circle class="f" cx="126.65" cy="174.95" r="2.9"/>
<circle class="f" cx="142.38" cy="52.25" r="2.9"/>
<circle class="f" cx="47.61" cy="132.34" r="2.9"/>
<circle class="f" cx="171.97" cy="137.32" r="2.9"/>
<circle class="f" cx="83.36" cy="49.38" r="2.9"/>
<circle class="e" cx="89.32" cy="174.45" r="2.5"/>
<circle class="f" cx="169.66" cy="77.92" r="2.9"/>
<circle class="f" cx="44.83" cy="94.88" r="2.9"/>
<circle class="e" cx="148.64" cy="166.90" r="2.5"/>
<circle class="f" cx="120.66" cy="43.31" r="2.9"/>
<circle class="f" cx="57.62" cy="153.67" r="2.9"/>
<circle class="f" cx="179.01" cy="114.76" r="2.9"/>
<circle class="e" cx="62.88" cy="61.30" r="2.5"/>
<circle class="f" cx="112.54" cy="179.50" r="2.9"/>
<circle class="e" cx="155.89" cy="58.45" r="2.5"/>
<circle class="f" cx="41.83" cy="118.60" r="2.9"/>
<circle class="f" cx="166.92" cy="151.39" r="2.9"/>
<circle class="f" cx="96.64" cy="42.41" r="2.9"/>
<circle class="e" cx="74.79" cy="170.60" r="2.5"/>
<circle class="f" cx="177.78" cy="90.61" r="2.9"/>
<circle class="e" cx="47.44" cy="80.00" r="2.5"/>
<circle class="e" cx="136.62" cy="176.13" r="2.5"/>
<circle class="f" cx="135.80" cy="44.64" r="2.9"/>
<circle class="f" cx="47.35" cy="142.42" r="2.9"/>
<circle class="f" cx="178.98" cy="130.04" r="2.9"/>
<circle class="e" cx="73.26" cy="50.04" r="2.5"/>
<circle class="f" cx="97.24" cy="180.78" r="2.9"/>
<circle class="f" cx="168.07" cy="67.88" r="2.9"/>
<circle class="f" cx="39.23" cy="103.38" r="2.9"/>
<circle class="f" cx="158.53" cy="164.39" r="2.9"/>
<circle class="f" cx="111.65" cy="38.49" r="2.9"/>
<circle class="f" cx="61.04" cy="163.32" r="2.9"/>
<circle class="e" cx="183.00" cy="105.31" r="2.5"/>
<circle class="e" cx="53.55" cy="65.60" r="2.5"/>
<circle class="e" cx="122.35" cy="182.62" r="2.5"/>
<circle class="e" cx="150.74" cy="49.52" r="2.5"/>
<circle class="f" cx="39.62" cy="128.69" r="2.9"/>
<circle class="e" cx="175.38" cy="145.42" r="2.5"/>
<circle class="e" cx="86.34" cy="41.11" r="2.5"/>
<circle class="f" cx="81.53" cy="178.51" r="2.9"/>
<circle class="f" cx="178.13" cy="80.20" r="2.9"/>
<circle class="f" cx="40.15" cy="87.46" r="2.9"/>
<circle class="e" cx="147.06" cy="175.53" r="2.5"/>
<circle class="f" cx="127.67" cy="38.04" r="2.9"/>
<circle class="f" cx="48.90" cy="152.80" r="2.9"/>
<circle class="e" cx="184.83" cy="121.31" r="2.5"/>
<circle class="f" cx="63.04" cy="52.54" r="2.9"/>
<circle class="e" cx="106.50" cy="185.84" r="2.5"/>
<circle class="f" cx="164.64" cy="57.88" r="2.9"/>
<circle class="f" cx="35.02" cy="113.10" r="2.9"/>
<circle class="f" cx="168.21" cy="160.05" r="2.9"/>
<circle class="e" cx="101.56" cy="35.17" r="2.5"/>
<circle class="f" cx="66.26" cy="172.60" r="2.9"/>
<circle class="f" cx="185.40" cy="94.92" r="2.9"/>
<circle class="f" cx="44.75" cy="71.67" r="2.9"/>
<circle class="f" cx="132.96" cy="184.08" r="2.9"/>
<circle class="f" cx="143.88" cy="41.28" r="2.9"/>
<circle class="f" cx="39.12" cy="139.43" r="2.9"/>
<circle class="f" cx="182.99" cy="137.81" r="2.9"/>
<circle class="f" cx="75.57" cy="41.60" r="2.9"/>
<circle class="e" cx="89.83" cy="185.43" r="2.5"/>
<circle class="f" cx="176.67" cy="69.48" r="2.9"/>
<circle class="e" cx="33.99" cy="96.38" r="2.5"/>
<circle class="e" cx="157.64" cy="173.10" r="2.5"/>
<circle class="e" cx="118.20" cy="32.69" r="2.5"/>
<circle class="e" cx="52.29" cy="163.15" r="2.5"/>
<circle class="f" cx="189.32" cy="111.36" r="2.9"/>
<circle class="f" cx="52.99" cy="56.87" r="2.9"/>
<circle class="f" cx="116.85" cy="189.42" r="2.9"/>
<circle class="f" cx="159.40" cy="48.24" r="2.9"/>
<circle class="f" cx="32.38" cy="123.77" r="2.9"/>
<circle class="f" cx="177.37" cy="153.94" r="2.9"/>
<circle class="e" cx="90.65" cy="33.49" r="2.5"/>
<circle class="f" cx="73.20" cy="181.20" r="2.9"/>
<circle class="f" cx="186.08" cy="83.87" r="2.9"/>
<circle class="f" cx="36.78" cy="79.38" r="2.9"/>
<circle class="e" cx="144.07" cy="183.76" r="2.5"/>
<circle class="f" cx="135.45" cy="34.01" r="2.9"/>
<circle class="f" cx="40.44" cy="150.50" r="2.9"/>
<circle class="f" cx="189.50" cy="128.73" r="2.9"/>
<circle class="f" cx="64.63" cy="43.92" r="2.9"/>
<circle class="e" cx="99.49" cy="191.11" r="2.5"/>
<circle class="f" cx="173.36" cy="58.75" r="2.9"/>
<circle class="f" cx="29.19" cy="106.55" r="2.9"/>
<circle class="e" cx="168.06" cy="168.82" r="2.5"/>
<circle class="e" cx="107.60" cy="28.81" r="2.5"/>
<circle class="f" cx="57.51" cy="173.18" r="2.9"/>
<circle class="f" cx="192.24" cy="100.42" r="2.9"/>
<circle class="f" cx="43.44" cy="62.98" r="2.9"/>
<circle class="f" cx="128.05" cy="191.36" r="2.9"/>
<circle class="f" cx="152.42" cy="39.24" r="2.9"/>
<circle class="f" cx="31.46" cy="135.13" r="2.9"/>
<circle class="f" cx="185.73" cy="146.16" r="2.9"/>
<circle class="f" cx="79.21" cy="33.60" r="2.9"/>
<circle class="e" cx="81.72" cy="188.86" r="2.5"/>
<circle class="e" cx="184.95" cy="72.45" r="2.5"/>
<circle class="e" cx="29.90" cy="88.59" r="2.5"/>
<circle class="f" cx="155.38" cy="181.60" r="2.9"/>
<circle class="e" cx="125.63" cy="27.96" r="2.5"/>
<circle class="f" cx="43.62" cy="161.60" r="2.9"/>
<circle class="e" cx="194.66" cy="118.37" r="2.5"/>
<circle class="e" cx="53.81" cy="48.09" r="2.5"/>
<circle class="f" cx="110.30" cy="195.33" r="2.9"/>
<circle class="e" cx="168.22" cy="48.33" r="2.5"/>
<circle class="f" cx="25.94" cy="117.73" r="2.9"/>
<circle class="e" cx="178.02" cy="162.74" r="2.5"/>
<circle class="f" cx="96.13" cy="26.57" r="2.9"/>
<circle class="f" cx="64.47" cy="182.59" r="2.9"/>
<circle class="f" cx="193.45" cy="88.76" r="2.9"/>
<circle class="f" cx="34.67" cy="70.79" r="2.9"/>
<circle class="e" cx="139.81" cy="191.51" r="2.5"/>
<circle class="f" cx="143.84" cy="31.18" r="2.9"/>
<circle class="f" cx="32.36" cy="146.90" r="2.9"/>
<circle class="e" cx="193.02" cy="136.86" r="2.5"/>
<circle class="f" cx="67.54" cy="35.55" r="2.9"/>
<circle class="f" cx="91.68" cy="195.30" r="2.9"/>
<circle class="e" cx="181.95" cy="60.96" r="2.5"/>
<circle class="f" cx="24.36" cy="99.11" r="2.9"/>
<circle class="f" cx="166.58" cy="177.57" r="2.9"/>
<circle class="f" cx="114.62" cy="23.36" r="2.9"/>
<circle class="e" cx="48.65" cy="172.44" r="2.5"/>
<circle class="f" cx="198.26" cy="106.96" r="2.9"/>
<circle class="f" cx="43.44" cy="54.09" r="2.9"/>
<circle class="e" cx="122.03" cy="197.91" r="2.5"/>
<circle class="f" cx="161.29" cy="38.50" r="2.9"/>
<circle class="e" cx="24.42" cy="129.68" r="2.5"/>
<circle class="e" cx="187.22" cy="154.95" r="2.5"/>
<circle class="e" cx="84.06" cy="26.12" r="2.5"/>
<circle class="f" cx="73.09" cy="191.08" r="2.9"/>
<circle class="e" cx="192.82" cy="76.66" r="2.5"/>
<circle class="e" cx="26.96" cy="80.16" r="2.5"/>
<circle class="f" cx="151.84" cy="189.80" r="2.9"/>
<circle class="e" cx="133.79" cy="24.32" r="2.5"/>
<circle class="e" cx="35.14" cy="158.76" r="2.5"/>
<circle class="f" cx="198.98" cy="126.20" r="2.9"/>
<circle class="f" cx="55.93" cy="39.40" r="2.9"/>
<circle class="f" cx="102.85" cy="200.30" r="2.9"/>
<circle class="f" cx="177.07" cy="49.71" r="2.9"/>
<circle class="e" cx="20.36" cy="110.72" r="2.5"/>
<circle class="f" cx="177.39" cy="171.69" r="2.9"/>
<circle class="f" cx="102.66" cy="20.41" r="2.9"/>
<circle class="f" cx="55.49" cy="182.71" r="2.9"/>
<circle class="f" cx="200.14" cy="94.75" r="2.9"/>
<circle class="f" cx="33.79" cy="61.84" r="2.9"/>
<circle class="e" cx="134.39" cy="198.70" r="2.5"/>
<circle class="f" cx="152.69" cy="29.56" r="2.9"/>
<circle class="e" cx="24.73" cy="142.10" r="2.5"/>
<circle class="f" cx="195.38" cy="145.55" r="2.9"/>
<circle class="f" cx="71.68" cy="27.54" r="2.9"/>
<circle class="e" cx="83.20" cy="198.39" r="2.5"/>
<circle class="f" cx="190.29" cy="64.42" r="2.9"/>
<circle class="f" cx="20.55" cy="90.92" r="2.9"/>
<circle class="e" cx="163.84" cy="186.18" r="2.5"/>
<circle class="e" cx="122.47" cy="18.88" r="2.5"/>
<circle class="f" cx="39.83" cy="170.43" r="2.9"/>
<circle class="e" cx="203.40" cy="114.41" r="2.5"/>
<circle class="e" cx="44.70" cy="45.12" r="2.5"/>
<circle class="e" cx="115.02" cy="203.66" r="2.5"/>
<circle class="f" cx="170.35" cy="39.00" r="2.9"/>
<circle class="f" cx="18.09" cy="123.18" r="2.9"/>
<circle class="f" cx="187.49" cy="164.02" r="2.9"/>
<circle class="f" cx="90.01" cy="19.25" r="2.9"/>
<circle class="f" cx="64.05" cy="192.11" r="2.9"/>
<circle class="e" cx="200.17" cy="82.01" r="2.5"/>
<circle class="f" cx="25.16" cy="71.23" r="2.9"/>
<circle class="f" cx="147.12" cy="197.59" r="2.9"/>
<circle class="f" cx="142.54" cy="21.77" r="2.9"/>
<circle class="e" cx="26.97" cy="154.71" r="2.5"/>
<circle class="f" cx="202.25" cy="134.72" r="2.9"/>
<circle class="e" cx="59.29" cy="30.90" r="2.5"/>
<circle class="e" cx="94.63" cy="204.29" r="2.5"/>
<circle class="e" cx="185.83" cy="52.33" r="2.5"/>
<circle class="e" cx="15.68" cy="102.86" r="2.5"/>
<circle class="f" cx="175.51" cy="180.65" r="2.9"/>
<circle class="e" cx="110.11" cy="15.08" r="2.5"/>
<circle class="e" cx="46.40" cy="181.59" r="2.5"/>
<circle class="e" cx="206.09" cy="101.73" r="2.5"/>
<circle class="e" cx="34.14" cy="52.67" r="2.5"/>
<circle class="f" cx="127.93" cy="205.23" r="2.9"/>
<circle class="f" cx="161.87" cy="29.12" r="2.9"/>
<circle class="e" cx="17.67" cy="136.21" r="2.5"/>
<circle class="e" cx="196.60" cy="154.67" r="2.5"/>
<circle class="e" cx="76.96" cy="20.00" r="2.5"/>
<circle class="f" cx="74.20" cy="200.38" r="2.9"/>
<circle class="f" cx="198.26" cy="69.05" r="2.9"/>
<circle class="e" cx="17.81" cy="82.11" r="2.5"/>
<circle class="e" cx="159.90" cy="194.53" r="2.5"/>
<circle class="f" cx="131.03" cy="15.40" r="2.9"/>
<circle class="e" cx="31.17" cy="167.20" r="2.5"/>
<circle class="e" cx="207.60" cy="122.66" r="2.5"/>
<circle class="e" cx="47.18" cy="36.20" r="2.5"/>
<circle class="e" cx="107.16" cy="208.56" r="2.5"/>
<circle class="e" cx="179.46" cy="40.72" r="2.5"/>
<circle class="e" cx="12.54" cy="115.74" r="2.5"/>
<circle class="e" cx="186.54" cy="173.26" r="2.5"/>
<circle class="e" cx="96.96" cy="13.08" r="2.5"/>
<circle class="e" cx="54.76" cy="191.95" r="2.5"/>
<circle class="f" cx="206.92" cy="88.42" r="2.9"/>
<circle class="e" cx="24.53" cy="61.95" r="2.5"/>
<circle class="e" cx="141.30" cy="204.87" r="2.5"/>
<circle class="e" cx="151.75" cy="20.35" r="2.5"/>
<circle class="e" cx="19.22" cy="149.52" r="2.5"/>
<circle class="f" cx="204.45" cy="143.79" r="2.9"/>
<circle class="e" cx="63.80" cy="22.73" r="2.5"/>
<circle class="f" cx="85.77" cy="207.26" r="2.9"/>
<circle class="e" cx="194.37" cy="56.15" r="2.5"/>
<circle class="e" cx="11.97" cy="94.26" r="2.5"/>
<circle class="f" cx="172.43" cy="189.50" r="2.9"/>
<circle class="f" cx="118.37" cy="10.64" r="2.9"/>
<circle class="e" cx="37.31" cy="179.27" r="2.5"/>
<circle class="e" cx="211.22" cy="109.59" r="2.5"/>
<circle class="e" cx="35.68" cy="43.41" r="2.5"/>
<circle class="e" cx="120.52" cy="211.01" r="2.5"/>
<circle class="e" cx="171.24" cy="29.87" r="2.5"/>
<circle class="f" cx="11.27" cy="129.31" r="2.9"/>
<circle class="e" cx="196.65" cy="164.09" r="2.5"/>
<circle class="e" cx="83.30" cy="13.02" r="2.5"/>
<circle class="e" cx="64.81" cy="201.23" r="2.5"/>
<circle class="e" cx="205.76" cy="74.77" r="2.5"/>
<circle class="e" cx="16.16" cy="72.80" r="2.5"/>
<circle class="f" cx="154.82" cy="202.51" r="2.9"/>
<circle class="e" cx="140.17" cy="12.95" r="2.5"/>
<circle class="f" cx="22.78" cy="162.82" r="2.9"/>
<circle class="e" cx="210.81" cy="131.57" r="2.5"/>
<circle class="f" cx="50.84" cy="27.46" r="2.9"/>
<circle class="f" cx="98.54" cy="212.52" r="2.9"/>
<circle class="f" cx="188.50" cy="43.63" r="2.9"/>
<circle class="f" cx="7.84" cy="107.48" r="2.9"/>
<circle class="e" cx="184.41" cy="182.52" r="2.5"/>
<circle class="f" cx="104.80" cy="7.70" r="2.9"/>
<circle class="f" cx="45.33" cy="190.62" r="2.9"/>
<circle class="e" cx="212.96" cy="95.79" r="2.5"/>
<circle class="f" cx="25.06" cy="52.43" r="2.9"/>
<circle class="f" cx="134.46" cy="211.53" r="2.9"/>
<circle class="e" cx="161.30" cy="20.07" r="2.5"/>
<circle class="f" cx="11.99" cy="143.27" r="2.9"/>
<circle class="f" cx="205.55" cy="153.29" r="2.9"/>
<circle class="f" cx="69.42" cy="14.98" r="2.9"/>
<circle class="f" cx="76.38" cy="209.16" r="2.9"/>
</svg>
<figcaption><b class="s b" style="left:777.28px;top:363.01px;font-size:12.8px;transform:scaleX(0.878)">As time goes on.</b> <span class="s r" style="left:869.95px;top:363.01px;font-size:12.8px;transform:scaleX(0.9476)">Link rot is inevitable and</span> <span class="s r" style="left:780.50px;top:381.01px;font-size:12.8px;transform:scaleX(0.9342)">rarely reversible. The longer the wait, the</span> <span class="s r" style="left:800.19px;top:399.01px;font-size:12.8px;transform:scaleX(0.946)">more likely a link will have rotted.</span></figcaption>
</figure>
</section>
</body>
</html>
